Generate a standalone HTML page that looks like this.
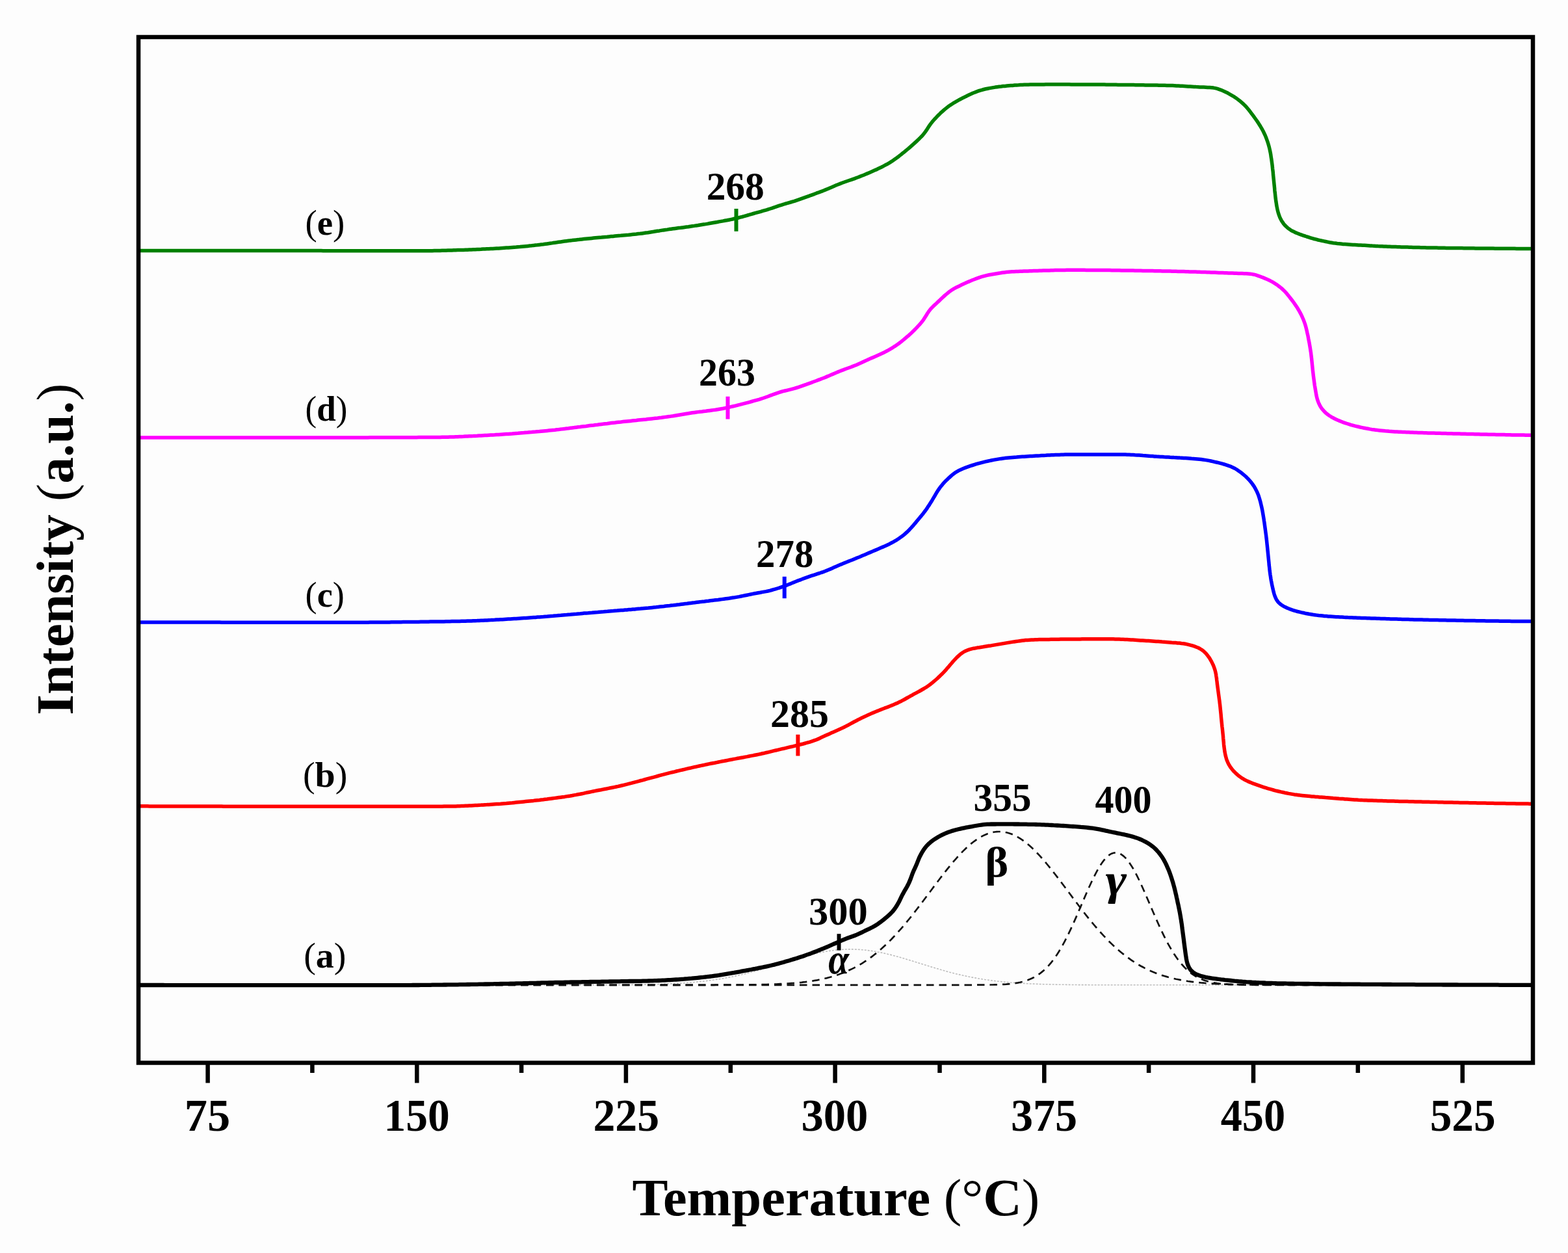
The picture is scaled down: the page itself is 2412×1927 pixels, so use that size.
<!DOCTYPE html>
<html><head><meta charset="utf-8"><title>TPD profiles</title><style>
html,body{margin:0;padding:0;background:#fdfdfd;}
svg{display:block;}
text{font-family:"Liberation Serif","Times New Roman",serif;fill:#000;}
</style></head><body>
<svg xmlns="http://www.w3.org/2000/svg" width="2412" height="1927" viewBox="0 0 2412 1927">
<rect x="0" y="0" width="2412" height="1927" fill="#fdfdfd"/>
<path d="M216.0,1514.8 L219.0,1514.8 L222.0,1514.8 L225.0,1514.8 L228.0,1514.8 L231.0,1514.8 L234.0,1514.8 L237.0,1514.8 L240.0,1514.8 L243.0,1514.8 L246.0,1514.8 L249.0,1514.8 L252.0,1514.8 L255.0,1514.8 L258.0,1514.8 L261.0,1514.8 L264.0,1514.8 L267.0,1514.8 L270.0,1514.8 L273.0,1514.8 L276.0,1514.8 L279.0,1514.8 L282.0,1514.8 L285.0,1514.8 L288.0,1514.8 L291.0,1514.8 L294.0,1514.8 L297.0,1514.8 L300.0,1514.8 L303.0,1514.8 L306.0,1514.8 L309.0,1514.8 L312.0,1514.8 L315.0,1514.8 L318.0,1514.8 L321.0,1514.8 L324.0,1514.8 L327.0,1514.8 L330.0,1514.8 L333.0,1514.8 L336.0,1514.8 L339.0,1514.8 L342.0,1514.8 L345.0,1514.8 L348.0,1514.8 L351.0,1514.8 L354.0,1514.8 L357.0,1514.8 L360.0,1514.8 L363.0,1514.8 L366.0,1514.8 L369.0,1514.8 L372.0,1514.8 L375.0,1514.8 L378.0,1514.8 L381.0,1514.8 L384.0,1514.8 L387.0,1514.8 L390.0,1514.8 L393.0,1514.8 L396.0,1514.8 L399.0,1514.8 L402.0,1514.8 L405.0,1514.8 L408.0,1514.8 L411.0,1514.8 L414.0,1514.8 L417.0,1514.8 L420.0,1514.8 L423.0,1514.8 L426.0,1514.8 L429.0,1514.8 L432.0,1514.8 L435.0,1514.8 L438.0,1514.8 L441.0,1514.8 L444.0,1514.8 L447.0,1514.8 L450.0,1514.8 L453.0,1514.8 L456.0,1514.8 L459.0,1514.8 L462.0,1514.8 L465.0,1514.8 L468.0,1514.8 L471.0,1514.8 L474.0,1514.8 L477.0,1514.8 L480.0,1514.8 L483.0,1514.8 L486.0,1514.8 L489.0,1514.8 L492.0,1514.8 L495.0,1514.8 L498.0,1514.8 L501.0,1514.8 L504.0,1514.8 L507.0,1514.8 L510.0,1514.8 L513.0,1514.8 L516.0,1514.8 L519.0,1514.8 L522.0,1514.8 L525.0,1514.8 L528.0,1514.8 L531.0,1514.8 L534.0,1514.8 L537.0,1514.8 L540.0,1514.8 L543.0,1514.8 L546.0,1514.8 L549.0,1514.8 L552.0,1514.8 L555.0,1514.8 L558.0,1514.8 L561.0,1514.8 L564.0,1514.8 L567.0,1514.8 L570.0,1514.8 L573.0,1514.8 L576.0,1514.8 L579.0,1514.8 L582.0,1514.8 L585.0,1514.8 L588.0,1514.8 L591.0,1514.8 L594.0,1514.8 L597.0,1514.8 L600.0,1514.8 L603.0,1514.8 L606.0,1514.8 L609.0,1514.8 L612.0,1514.8 L615.0,1514.8 L618.0,1514.8 L621.0,1514.8 L624.0,1514.8 L627.0,1514.8 L630.0,1514.8 L633.0,1514.8 L636.0,1514.8 L639.0,1514.8 L642.0,1514.8 L645.0,1514.8 L648.0,1514.8 L651.0,1514.8 L654.0,1514.8 L657.0,1514.8 L660.0,1514.8 L663.0,1514.8 L666.0,1514.8 L669.0,1514.8 L672.0,1514.8 L675.0,1514.8 L678.0,1514.8 L681.0,1514.8 L684.0,1514.8 L687.0,1514.8 L690.0,1514.8 L693.0,1514.8 L696.0,1514.8 L699.0,1514.8 L702.0,1514.8 L705.0,1514.8 L708.0,1514.8 L711.0,1514.8 L714.0,1514.8 L717.0,1514.8 L720.0,1514.8 L723.0,1514.8 L726.0,1514.8 L729.0,1514.8 L732.0,1514.8 L735.0,1514.8 L738.0,1514.8 L741.0,1514.8 L744.0,1514.8 L747.0,1514.8 L750.0,1514.8 L753.0,1514.8 L756.0,1514.8 L759.0,1514.8 L762.0,1514.8 L765.0,1514.8 L768.0,1514.8 L771.0,1514.8 L774.0,1514.8 L777.0,1514.8 L780.0,1514.8 L783.0,1514.8 L786.0,1514.8 L789.0,1514.8 L792.0,1514.8 L795.0,1514.8 L798.0,1514.8 L801.0,1514.8 L804.0,1514.8 L807.0,1514.8 L810.0,1514.8 L813.0,1514.8 L816.0,1514.8 L819.0,1514.8 L822.0,1514.8 L825.0,1514.8 L828.0,1514.8 L831.0,1514.8 L834.0,1514.8 L837.0,1514.8 L840.0,1514.8 L843.0,1514.8 L846.0,1514.8 L849.0,1514.8 L852.0,1514.8 L855.0,1514.8 L858.0,1514.8 L861.0,1514.8 L864.0,1514.8 L867.0,1514.8 L870.0,1514.8 L873.0,1514.8 L876.0,1514.8 L879.0,1514.8 L882.0,1514.8 L885.0,1514.8 L888.0,1514.8 L891.0,1514.8 L894.0,1514.8 L897.0,1514.8 L900.0,1514.8 L903.0,1514.8 L906.0,1514.8 L909.0,1514.8 L912.0,1514.7 L915.0,1514.7 L918.0,1514.7 L921.0,1514.7 L924.0,1514.7 L927.0,1514.7 L930.0,1514.7 L933.0,1514.7 L936.0,1514.7 L939.0,1514.7 L942.0,1514.7 L945.0,1514.6 L948.0,1514.6 L951.0,1514.6 L954.0,1514.6 L957.0,1514.6 L960.0,1514.5 L963.0,1514.5 L966.0,1514.5 L969.0,1514.5 L972.0,1514.4 L975.0,1514.4 L978.0,1514.4 L981.0,1514.3 L984.0,1514.3 L987.0,1514.2 L990.0,1514.2 L993.0,1514.1 L996.0,1514.1 L999.0,1514.0 L1002.0,1513.9 L1005.0,1513.8 L1008.0,1513.8 L1011.0,1513.7 L1014.0,1513.6 L1017.0,1513.5 L1020.0,1513.4 L1023.0,1513.3 L1026.0,1513.2 L1029.0,1513.0 L1032.0,1512.9 L1035.0,1512.8 L1038.0,1512.6 L1041.0,1512.4 L1044.0,1512.3 L1047.0,1512.1 L1050.0,1511.9 L1053.0,1511.7 L1056.0,1511.5 L1059.0,1511.3 L1062.0,1511.0 L1065.0,1510.8 L1068.0,1510.5 L1071.0,1510.2 L1074.0,1509.9 L1077.0,1509.6 L1080.0,1509.3 L1083.0,1508.9 L1086.0,1508.6 L1089.0,1508.2 L1092.0,1507.8 L1095.0,1507.4 L1098.0,1507.0 L1101.0,1506.5 L1104.0,1506.1 L1107.0,1505.6 L1110.0,1505.1 L1113.0,1504.6 L1116.0,1504.0 L1119.0,1503.5 L1122.0,1502.9 L1125.0,1502.3 L1128.0,1501.7 L1131.0,1501.1 L1134.0,1500.4 L1137.0,1499.7 L1140.0,1499.0 L1143.0,1498.3 L1146.0,1497.6 L1149.0,1496.9 L1152.0,1496.1 L1155.0,1495.3 L1158.0,1494.5 L1161.0,1493.7 L1164.0,1492.9 L1167.0,1492.0 L1170.0,1491.2 L1173.0,1490.3 L1176.0,1489.4 L1179.0,1488.5 L1182.0,1487.6 L1185.0,1486.7 L1188.0,1485.8 L1191.0,1484.9 L1194.0,1483.9 L1197.0,1483.0 L1200.0,1482.1 L1203.0,1481.1 L1206.0,1480.2 L1209.0,1479.3 L1212.0,1478.3 L1215.0,1477.4 L1218.0,1476.5 L1221.0,1475.6 L1224.0,1474.7 L1227.0,1473.8 L1230.0,1472.9 L1233.0,1472.0 L1236.0,1471.2 L1239.0,1470.4 L1242.0,1469.6 L1245.0,1468.8 L1248.0,1468.0 L1251.0,1467.3 L1254.0,1466.6 L1257.0,1465.9 L1260.0,1465.3 L1263.0,1464.6 L1266.0,1464.1 L1269.0,1463.5 L1272.0,1463.0 L1275.0,1462.5 L1278.0,1462.1 L1281.0,1461.7 L1284.0,1461.3 L1287.0,1461.0 L1290.0,1460.7 L1293.0,1460.5 L1296.0,1460.3 L1299.0,1460.1 L1302.0,1460.0 L1305.0,1459.9 L1308.0,1459.9 L1311.0,1459.9 L1314.0,1460.0 L1317.0,1460.1 L1320.0,1460.2 L1323.0,1460.4 L1326.0,1460.7 L1329.0,1460.9 L1332.0,1461.2 L1335.0,1461.6 L1338.0,1462.0 L1341.0,1462.4 L1344.0,1462.9 L1347.0,1463.4 L1350.0,1464.0 L1353.0,1464.5 L1356.0,1465.1 L1359.0,1465.8 L1362.0,1466.5 L1365.0,1467.2 L1368.0,1467.9 L1371.0,1468.6 L1374.0,1469.4 L1377.0,1470.2 L1380.0,1471.0 L1383.0,1471.9 L1386.0,1472.7 L1389.0,1473.6 L1392.0,1474.5 L1395.0,1475.4 L1398.0,1476.3 L1401.0,1477.2 L1404.0,1478.1 L1407.0,1479.1 L1410.0,1480.0 L1413.0,1480.9 L1416.0,1481.9 L1419.0,1482.8 L1422.0,1483.7 L1425.0,1484.7 L1428.0,1485.6 L1431.0,1486.5 L1434.0,1487.4 L1437.0,1488.3 L1440.0,1489.2 L1443.0,1490.1 L1446.0,1491.0 L1449.0,1491.9 L1452.0,1492.7 L1455.0,1493.5 L1458.0,1494.4 L1461.0,1495.2 L1464.0,1495.9 L1467.0,1496.7 L1470.0,1497.5 L1473.0,1498.2 L1476.0,1498.9 L1479.0,1499.6 L1482.0,1500.3 L1485.0,1500.9 L1488.0,1501.6 L1491.0,1502.2 L1494.0,1502.8 L1497.0,1503.4 L1500.0,1503.9 L1503.0,1504.5 L1506.0,1505.0 L1509.0,1505.5 L1512.0,1506.0 L1515.0,1506.5 L1518.0,1506.9 L1521.0,1507.3 L1524.0,1507.7 L1527.0,1508.1 L1530.0,1508.5 L1533.0,1508.9 L1536.0,1509.2 L1539.0,1509.5 L1542.0,1509.9 L1545.0,1510.2 L1548.0,1510.4 L1551.0,1510.7 L1554.0,1511.0 L1557.0,1511.2 L1560.0,1511.4 L1563.0,1511.7 L1566.0,1511.9 L1569.0,1512.1 L1572.0,1512.2 L1575.0,1512.4 L1578.0,1512.6 L1581.0,1512.7 L1584.0,1512.9 L1587.0,1513.0 L1590.0,1513.1 L1593.0,1513.3 L1596.0,1513.4 L1599.0,1513.5 L1602.0,1513.6 L1605.0,1513.7 L1608.0,1513.8 L1611.0,1513.8 L1614.0,1513.9 L1617.0,1514.0 L1620.0,1514.0 L1623.0,1514.1 L1626.0,1514.2 L1629.0,1514.2 L1632.0,1514.3 L1635.0,1514.3 L1638.0,1514.3 L1641.0,1514.4 L1644.0,1514.4 L1647.0,1514.5 L1650.0,1514.5 L1653.0,1514.5 L1656.0,1514.5 L1659.0,1514.6 L1662.0,1514.6 L1665.0,1514.6 L1668.0,1514.6 L1671.0,1514.6 L1674.0,1514.6 L1677.0,1514.7 L1680.0,1514.7 L1683.0,1514.7 L1686.0,1514.7 L1689.0,1514.7 L1692.0,1514.7 L1695.0,1514.7 L1698.0,1514.7 L1701.0,1514.7 L1704.0,1514.7 L1707.0,1514.8 L1710.0,1514.8 L1713.0,1514.8 L1716.0,1514.8 L1719.0,1514.8 L1722.0,1514.8 L1725.0,1514.8 L1728.0,1514.8 L1731.0,1514.8 L1734.0,1514.8 L1737.0,1514.8 L1740.0,1514.8 L1743.0,1514.8 L1746.0,1514.8 L1749.0,1514.8 L1752.0,1514.8 L1755.0,1514.8 L1758.0,1514.8 L1761.0,1514.8 L1764.0,1514.8 L1767.0,1514.8 L1770.0,1514.8 L1773.0,1514.8 L1776.0,1514.8 L1779.0,1514.8 L1782.0,1514.8 L1785.0,1514.8 L1788.0,1514.8 L1791.0,1514.8 L1794.0,1514.8 L1797.0,1514.8 L1800.0,1514.8 L1803.0,1514.8 L1806.0,1514.8 L1809.0,1514.8 L1812.0,1514.8 L1815.0,1514.8 L1818.0,1514.8 L1821.0,1514.8 L1824.0,1514.8 L1827.0,1514.8 L1830.0,1514.8 L1833.0,1514.8 L1836.0,1514.8 L1839.0,1514.8 L1842.0,1514.8 L1845.0,1514.8 L1848.0,1514.8 L1851.0,1514.8 L1854.0,1514.8 L1857.0,1514.8 L1860.0,1514.8 L1863.0,1514.8 L1866.0,1514.8 L1869.0,1514.8 L1872.0,1514.8 L1875.0,1514.8 L1878.0,1514.8 L1881.0,1514.8 L1884.0,1514.8 L1887.0,1514.8 L1890.0,1514.8 L1893.0,1514.8 L1896.0,1514.8 L1899.0,1514.8 L1902.0,1514.8 L1905.0,1514.8 L1908.0,1514.8 L1911.0,1514.8 L1914.0,1514.8 L1917.0,1514.8 L1920.0,1514.8 L1923.0,1514.8 L1926.0,1514.8 L1929.0,1514.8 L1932.0,1514.8 L1935.0,1514.8 L1938.0,1514.8 L1941.0,1514.8 L1944.0,1514.8 L1947.0,1514.8 L1950.0,1514.8 L1953.0,1514.8 L1956.0,1514.8 L1959.0,1514.8 L1962.0,1514.8 L1965.0,1514.8 L1968.0,1514.8 L1971.0,1514.8 L1974.0,1514.8 L1977.0,1514.8 L1980.0,1514.8 L1983.0,1514.8 L1986.0,1514.8 L1989.0,1514.8 L1992.0,1514.8 L1995.0,1514.8 L1998.0,1514.8 L2001.0,1514.8 L2004.0,1514.8 L2007.0,1514.8 L2010.0,1514.8 L2013.0,1514.8 L2016.0,1514.8 L2019.0,1514.8 L2022.0,1514.8 L2025.0,1514.8 L2028.0,1514.8 L2031.0,1514.8 L2034.0,1514.8 L2037.0,1514.8 L2040.0,1514.8 L2043.0,1514.8 L2046.0,1514.8 L2049.0,1514.8 L2052.0,1514.8 L2055.0,1514.8 L2058.0,1514.8 L2061.0,1514.8 L2064.0,1514.8 L2067.0,1514.8 L2070.0,1514.8 L2073.0,1514.8 L2076.0,1514.8 L2079.0,1514.8 L2082.0,1514.8 L2085.0,1514.8 L2088.0,1514.8 L2091.0,1514.8 L2094.0,1514.8 L2097.0,1514.8 L2100.0,1514.8 L2103.0,1514.8 L2106.0,1514.8 L2109.0,1514.8 L2112.0,1514.8 L2115.0,1514.8 L2118.0,1514.8 L2121.0,1514.8 L2124.0,1514.8 L2127.0,1514.8 L2130.0,1514.8 L2133.0,1514.8 L2136.0,1514.8 L2139.0,1514.8 L2142.0,1514.8 L2145.0,1514.8 L2148.0,1514.8 L2151.0,1514.8 L2154.0,1514.8 L2157.0,1514.8 L2160.0,1514.8 L2163.0,1514.8 L2166.0,1514.8 L2169.0,1514.8 L2172.0,1514.8 L2175.0,1514.8 L2178.0,1514.8 L2181.0,1514.8 L2184.0,1514.8 L2187.0,1514.8 L2190.0,1514.8 L2193.0,1514.8 L2196.0,1514.8 L2199.0,1514.8 L2202.0,1514.8 L2205.0,1514.8 L2208.0,1514.8 L2211.0,1514.8 L2214.0,1514.8 L2217.0,1514.8 L2220.0,1514.8 L2223.0,1514.8 L2226.0,1514.8 L2229.0,1514.8 L2232.0,1514.8 L2235.0,1514.8 L2238.0,1514.8 L2241.0,1514.8 L2244.0,1514.8 L2247.0,1514.8 L2250.0,1514.8 L2253.0,1514.8 L2256.0,1514.8 L2259.0,1514.8 L2262.0,1514.8 L2265.0,1514.8 L2268.0,1514.8 L2271.0,1514.8 L2274.0,1514.8 L2277.0,1514.8 L2280.0,1514.8 L2283.0,1514.8 L2286.0,1514.8 L2289.0,1514.8 L2292.0,1514.8 L2295.0,1514.8 L2298.0,1514.8 L2301.0,1514.8 L2304.0,1514.8 L2307.0,1514.8 L2310.0,1514.8 L2313.0,1514.8 L2316.0,1514.8 L2319.0,1514.8 L2322.0,1514.8 L2325.0,1514.8 L2328.0,1514.8 L2331.0,1514.8 L2334.0,1514.8 L2337.0,1514.8 L2340.0,1514.8 L2343.0,1514.8 L2346.0,1514.8 L2349.0,1514.8 L2352.0,1514.8 L2355.0,1514.8" fill="none" stroke="#bdbdbd" stroke-width="1.6" stroke-dasharray="3,2"/>
<path d="M216.0,1514.8 L219.0,1514.8 L222.0,1514.8 L225.0,1514.8 L228.0,1514.8 L231.0,1514.8 L234.0,1514.8 L237.0,1514.8 L240.0,1514.8 L243.0,1514.8 L246.0,1514.8 L249.0,1514.8 L252.0,1514.8 L255.0,1514.8 L258.0,1514.8 L261.0,1514.8 L264.0,1514.8 L267.0,1514.8 L270.0,1514.8 L273.0,1514.8 L276.0,1514.8 L279.0,1514.8 L282.0,1514.8 L285.0,1514.8 L288.0,1514.8 L291.0,1514.8 L294.0,1514.8 L297.0,1514.8 L300.0,1514.8 L303.0,1514.8 L306.0,1514.8 L309.0,1514.8 L312.0,1514.8 L315.0,1514.8 L318.0,1514.8 L321.0,1514.8 L324.0,1514.8 L327.0,1514.8 L330.0,1514.8 L333.0,1514.8 L336.0,1514.8 L339.0,1514.8 L342.0,1514.8 L345.0,1514.8 L348.0,1514.8 L351.0,1514.8 L354.0,1514.8 L357.0,1514.8 L360.0,1514.8 L363.0,1514.8 L366.0,1514.8 L369.0,1514.8 L372.0,1514.8 L375.0,1514.8 L378.0,1514.8 L381.0,1514.8 L384.0,1514.8 L387.0,1514.8 L390.0,1514.8 L393.0,1514.8 L396.0,1514.8 L399.0,1514.8 L402.0,1514.8 L405.0,1514.8 L408.0,1514.8 L411.0,1514.8 L414.0,1514.8 L417.0,1514.8 L420.0,1514.8 L423.0,1514.8 L426.0,1514.8 L429.0,1514.8 L432.0,1514.8 L435.0,1514.8 L438.0,1514.8 L441.0,1514.8 L444.0,1514.8 L447.0,1514.8 L450.0,1514.8 L453.0,1514.8 L456.0,1514.8 L459.0,1514.8 L462.0,1514.8 L465.0,1514.8 L468.0,1514.8 L471.0,1514.8 L474.0,1514.8 L477.0,1514.8 L480.0,1514.8 L483.0,1514.8 L486.0,1514.8 L489.0,1514.8 L492.0,1514.8 L495.0,1514.8 L498.0,1514.8 L501.0,1514.8 L504.0,1514.8 L507.0,1514.8 L510.0,1514.8 L513.0,1514.8 L516.0,1514.8 L519.0,1514.8 L522.0,1514.8 L525.0,1514.8 L528.0,1514.8 L531.0,1514.8 L534.0,1514.8 L537.0,1514.8 L540.0,1514.8 L543.0,1514.8 L546.0,1514.8 L549.0,1514.8 L552.0,1514.8 L555.0,1514.8 L558.0,1514.8 L561.0,1514.8 L564.0,1514.8 L567.0,1514.8 L570.0,1514.8 L573.0,1514.8 L576.0,1514.8 L579.0,1514.8 L582.0,1514.8 L585.0,1514.8 L588.0,1514.8 L591.0,1514.8 L594.0,1514.8 L597.0,1514.8 L600.0,1514.8 L603.0,1514.8 L606.0,1514.8 L609.0,1514.8 L612.0,1514.8 L615.0,1514.8 L618.0,1514.8 L621.0,1514.8 L624.0,1514.8 L627.0,1514.8 L630.0,1514.8 L633.0,1514.8 L636.0,1514.8 L639.0,1514.8 L642.0,1514.8 L645.0,1514.8 L648.0,1514.8 L651.0,1514.8 L654.0,1514.8 L657.0,1514.8 L660.0,1514.8 L663.0,1514.8 L666.0,1514.8 L669.0,1514.8 L672.0,1514.8 L675.0,1514.8 L678.0,1514.8 L681.0,1514.8 L684.0,1514.8 L687.0,1514.8 L690.0,1514.8 L693.0,1514.8 L696.0,1514.8 L699.0,1514.8 L702.0,1514.8 L705.0,1514.8 L708.0,1514.8 L711.0,1514.8 L714.0,1514.8 L717.0,1514.8 L720.0,1514.8 L723.0,1514.8 L726.0,1514.8 L729.0,1514.8 L732.0,1514.8 L735.0,1514.8 L738.0,1514.8 L741.0,1514.8 L744.0,1514.8 L747.0,1514.8 L750.0,1514.8 L753.0,1514.8 L756.0,1514.8 L759.0,1514.8 L762.0,1514.8 L765.0,1514.8 L768.0,1514.8 L771.0,1514.8 L774.0,1514.8 L777.0,1514.8 L780.0,1514.8 L783.0,1514.8 L786.0,1514.8 L789.0,1514.8 L792.0,1514.8 L795.0,1514.8 L798.0,1514.8 L801.0,1514.8 L804.0,1514.8 L807.0,1514.8 L810.0,1514.8 L813.0,1514.8 L816.0,1514.8 L819.0,1514.8 L822.0,1514.8 L825.0,1514.8 L828.0,1514.8 L831.0,1514.8 L834.0,1514.8 L837.0,1514.8 L840.0,1514.8 L843.0,1514.8 L846.0,1514.8 L849.0,1514.8 L852.0,1514.8 L855.0,1514.8 L858.0,1514.8 L861.0,1514.8 L864.0,1514.8 L867.0,1514.8 L870.0,1514.8 L873.0,1514.8 L876.0,1514.8 L879.0,1514.8 L882.0,1514.8 L885.0,1514.8 L888.0,1514.8 L891.0,1514.8 L894.0,1514.8 L897.0,1514.8 L900.0,1514.8 L903.0,1514.8 L906.0,1514.8 L909.0,1514.8 L912.0,1514.8 L915.0,1514.8 L918.0,1514.8 L921.0,1514.8 L924.0,1514.8 L927.0,1514.8 L930.0,1514.8 L933.0,1514.8 L936.0,1514.8 L939.0,1514.8 L942.0,1514.8 L945.0,1514.8 L948.0,1514.8 L951.0,1514.8 L954.0,1514.8 L957.0,1514.8 L960.0,1514.8 L963.0,1514.8 L966.0,1514.8 L969.0,1514.8 L972.0,1514.8 L975.0,1514.8 L978.0,1514.8 L981.0,1514.8 L984.0,1514.8 L987.0,1514.8 L990.0,1514.8 L993.0,1514.8 L996.0,1514.8 L999.0,1514.8 L1002.0,1514.8 L1005.0,1514.8 L1008.0,1514.8 L1011.0,1514.8 L1014.0,1514.8 L1017.0,1514.8 L1020.0,1514.8 L1023.0,1514.8 L1026.0,1514.8 L1029.0,1514.8 L1032.0,1514.8 L1035.0,1514.8 L1038.0,1514.8 L1041.0,1514.8 L1044.0,1514.8 L1047.0,1514.8 L1050.0,1514.8 L1053.0,1514.8 L1056.0,1514.8 L1059.0,1514.8 L1062.0,1514.8 L1065.0,1514.8 L1068.0,1514.8 L1071.0,1514.8 L1074.0,1514.8 L1077.0,1514.8 L1080.0,1514.8 L1083.0,1514.8 L1086.0,1514.8 L1089.0,1514.8 L1092.0,1514.8 L1095.0,1514.8 L1098.0,1514.8 L1101.0,1514.7 L1104.0,1514.7 L1107.0,1514.7 L1110.0,1514.7 L1113.0,1514.7 L1116.0,1514.7 L1119.0,1514.7 L1122.0,1514.7 L1125.0,1514.7 L1128.0,1514.7 L1131.0,1514.6 L1134.0,1514.6 L1137.0,1514.6 L1140.0,1514.6 L1143.0,1514.5 L1146.0,1514.5 L1149.0,1514.5 L1152.0,1514.5 L1155.0,1514.4 L1158.0,1514.4 L1161.0,1514.3 L1164.0,1514.3 L1167.0,1514.2 L1170.0,1514.2 L1173.0,1514.1 L1176.0,1514.0 L1179.0,1514.0 L1182.0,1513.9 L1185.0,1513.8 L1188.0,1513.7 L1191.0,1513.6 L1194.0,1513.5 L1197.0,1513.3 L1200.0,1513.2 L1203.0,1513.1 L1206.0,1512.9 L1209.0,1512.7 L1212.0,1512.5 L1215.0,1512.3 L1218.0,1512.1 L1221.0,1511.9 L1224.0,1511.6 L1227.0,1511.4 L1230.0,1511.1 L1233.0,1510.8 L1236.0,1510.4 L1239.0,1510.1 L1242.0,1509.7 L1245.0,1509.3 L1248.0,1508.8 L1251.0,1508.4 L1254.0,1507.8 L1257.0,1507.3 L1260.0,1506.7 L1263.0,1506.1 L1266.0,1505.5 L1269.0,1504.8 L1272.0,1504.1 L1275.0,1503.3 L1278.0,1502.5 L1281.0,1501.6 L1284.0,1500.7 L1287.0,1499.7 L1290.0,1498.7 L1293.0,1497.6 L1296.0,1496.5 L1299.0,1495.3 L1302.0,1494.0 L1305.0,1492.7 L1308.0,1491.3 L1311.0,1489.9 L1314.0,1488.4 L1317.0,1486.8 L1320.0,1485.1 L1323.0,1483.4 L1326.0,1481.6 L1329.0,1479.7 L1332.0,1477.7 L1335.0,1475.6 L1338.0,1473.5 L1341.0,1471.3 L1344.0,1469.0 L1347.0,1466.6 L1350.0,1464.2 L1353.0,1461.6 L1356.0,1459.0 L1359.0,1456.3 L1362.0,1453.5 L1365.0,1450.6 L1368.0,1447.7 L1371.0,1444.7 L1374.0,1441.5 L1377.0,1438.4 L1380.0,1435.1 L1383.0,1431.7 L1386.0,1428.3 L1389.0,1424.9 L1392.0,1421.3 L1395.0,1417.7 L1398.0,1414.0 L1401.0,1410.3 L1404.0,1406.5 L1407.0,1402.7 L1410.0,1398.8 L1413.0,1394.9 L1416.0,1391.0 L1419.0,1387.0 L1422.0,1383.0 L1425.0,1379.0 L1428.0,1375.0 L1431.0,1371.0 L1434.0,1367.0 L1437.0,1362.9 L1440.0,1358.9 L1443.0,1355.0 L1446.0,1351.0 L1449.0,1347.1 L1452.0,1343.2 L1455.0,1339.4 L1458.0,1335.6 L1461.0,1331.9 L1464.0,1328.3 L1467.0,1324.7 L1470.0,1321.3 L1473.0,1317.9 L1476.0,1314.6 L1479.0,1311.4 L1482.0,1308.4 L1485.0,1305.5 L1488.0,1302.6 L1491.0,1300.0 L1494.0,1297.4 L1497.0,1295.0 L1500.0,1292.8 L1503.0,1290.7 L1506.0,1288.8 L1509.0,1287.0 L1512.0,1285.4 L1515.0,1284.0 L1518.0,1282.7 L1521.0,1281.6 L1524.0,1280.7 L1527.0,1280.0 L1530.0,1279.5 L1533.0,1279.2 L1536.0,1279.0 L1539.0,1279.0 L1542.0,1279.3 L1545.0,1279.7 L1548.0,1280.3 L1551.0,1281.0 L1554.0,1282.0 L1557.0,1283.1 L1560.0,1284.4 L1563.0,1285.9 L1566.0,1287.6 L1569.0,1289.4 L1572.0,1291.4 L1575.0,1293.5 L1578.0,1295.8 L1581.0,1298.3 L1584.0,1300.8 L1587.0,1303.6 L1590.0,1306.4 L1593.0,1309.4 L1596.0,1312.5 L1599.0,1315.7 L1602.0,1319.0 L1605.0,1322.4 L1608.0,1325.9 L1611.0,1329.5 L1614.0,1333.1 L1617.0,1336.9 L1620.0,1340.7 L1623.0,1344.5 L1626.0,1348.4 L1629.0,1352.3 L1632.0,1356.3 L1635.0,1360.3 L1638.0,1364.3 L1641.0,1368.3 L1644.0,1372.3 L1647.0,1376.3 L1650.0,1380.4 L1653.0,1384.4 L1656.0,1388.3 L1659.0,1392.3 L1662.0,1396.2 L1665.0,1400.1 L1668.0,1404.0 L1671.0,1407.8 L1674.0,1411.6 L1677.0,1415.3 L1680.0,1418.9 L1683.0,1422.5 L1686.0,1426.0 L1689.0,1429.5 L1692.0,1432.9 L1695.0,1436.2 L1698.0,1439.4 L1701.0,1442.6 L1704.0,1445.7 L1707.0,1448.7 L1710.0,1451.6 L1713.0,1454.5 L1716.0,1457.2 L1719.0,1459.9 L1722.0,1462.5 L1725.0,1465.0 L1728.0,1467.4 L1731.0,1469.8 L1734.0,1472.0 L1737.0,1474.2 L1740.0,1476.3 L1743.0,1478.4 L1746.0,1480.3 L1749.0,1482.2 L1752.0,1484.0 L1755.0,1485.7 L1758.0,1487.3 L1761.0,1488.9 L1764.0,1490.4 L1767.0,1491.8 L1770.0,1493.2 L1773.0,1494.5 L1776.0,1495.7 L1779.0,1496.9 L1782.0,1498.0 L1785.0,1499.1 L1788.0,1500.1 L1791.0,1501.0 L1794.0,1501.9 L1797.0,1502.8 L1800.0,1503.6 L1803.0,1504.3 L1806.0,1505.0 L1809.0,1505.7 L1812.0,1506.3 L1815.0,1506.9 L1818.0,1507.5 L1821.0,1508.0 L1824.0,1508.5 L1827.0,1509.0 L1830.0,1509.4 L1833.0,1509.8 L1836.0,1510.2 L1839.0,1510.5 L1842.0,1510.9 L1845.0,1511.2 L1848.0,1511.5 L1851.0,1511.7 L1854.0,1512.0 L1857.0,1512.2 L1860.0,1512.4 L1863.0,1512.6 L1866.0,1512.8 L1869.0,1513.0 L1872.0,1513.1 L1875.0,1513.3 L1878.0,1513.4 L1881.0,1513.5 L1884.0,1513.6 L1887.0,1513.7 L1890.0,1513.8 L1893.0,1513.9 L1896.0,1514.0 L1899.0,1514.1 L1902.0,1514.1 L1905.0,1514.2 L1908.0,1514.2 L1911.0,1514.3 L1914.0,1514.3 L1917.0,1514.4 L1920.0,1514.4 L1923.0,1514.5 L1926.0,1514.5 L1929.0,1514.5 L1932.0,1514.6 L1935.0,1514.6 L1938.0,1514.6 L1941.0,1514.6 L1944.0,1514.6 L1947.0,1514.7 L1950.0,1514.7 L1953.0,1514.7 L1956.0,1514.7 L1959.0,1514.7 L1962.0,1514.7 L1965.0,1514.7 L1968.0,1514.7 L1971.0,1514.7 L1974.0,1514.7 L1977.0,1514.8 L1980.0,1514.8 L1983.0,1514.8 L1986.0,1514.8 L1989.0,1514.8 L1992.0,1514.8 L1995.0,1514.8 L1998.0,1514.8 L2001.0,1514.8 L2004.0,1514.8 L2007.0,1514.8 L2010.0,1514.8 L2013.0,1514.8 L2016.0,1514.8 L2019.0,1514.8 L2022.0,1514.8 L2025.0,1514.8 L2028.0,1514.8 L2031.0,1514.8 L2034.0,1514.8 L2037.0,1514.8 L2040.0,1514.8 L2043.0,1514.8 L2046.0,1514.8 L2049.0,1514.8 L2052.0,1514.8 L2055.0,1514.8 L2058.0,1514.8 L2061.0,1514.8 L2064.0,1514.8 L2067.0,1514.8 L2070.0,1514.8 L2073.0,1514.8 L2076.0,1514.8 L2079.0,1514.8 L2082.0,1514.8 L2085.0,1514.8 L2088.0,1514.8 L2091.0,1514.8 L2094.0,1514.8 L2097.0,1514.8 L2100.0,1514.8 L2103.0,1514.8 L2106.0,1514.8 L2109.0,1514.8 L2112.0,1514.8 L2115.0,1514.8 L2118.0,1514.8 L2121.0,1514.8 L2124.0,1514.8 L2127.0,1514.8 L2130.0,1514.8 L2133.0,1514.8 L2136.0,1514.8 L2139.0,1514.8 L2142.0,1514.8 L2145.0,1514.8 L2148.0,1514.8 L2151.0,1514.8 L2154.0,1514.8 L2157.0,1514.8 L2160.0,1514.8 L2163.0,1514.8 L2166.0,1514.8 L2169.0,1514.8 L2172.0,1514.8 L2175.0,1514.8 L2178.0,1514.8 L2181.0,1514.8 L2184.0,1514.8 L2187.0,1514.8 L2190.0,1514.8 L2193.0,1514.8 L2196.0,1514.8 L2199.0,1514.8 L2202.0,1514.8 L2205.0,1514.8 L2208.0,1514.8 L2211.0,1514.8 L2214.0,1514.8 L2217.0,1514.8 L2220.0,1514.8 L2223.0,1514.8 L2226.0,1514.8 L2229.0,1514.8 L2232.0,1514.8 L2235.0,1514.8 L2238.0,1514.8 L2241.0,1514.8 L2244.0,1514.8 L2247.0,1514.8 L2250.0,1514.8 L2253.0,1514.8 L2256.0,1514.8 L2259.0,1514.8 L2262.0,1514.8 L2265.0,1514.8 L2268.0,1514.8 L2271.0,1514.8 L2274.0,1514.8 L2277.0,1514.8 L2280.0,1514.8 L2283.0,1514.8 L2286.0,1514.8 L2289.0,1514.8 L2292.0,1514.8 L2295.0,1514.8 L2298.0,1514.8 L2301.0,1514.8 L2304.0,1514.8 L2307.0,1514.8 L2310.0,1514.8 L2313.0,1514.8 L2316.0,1514.8 L2319.0,1514.8 L2322.0,1514.8 L2325.0,1514.8 L2328.0,1514.8 L2331.0,1514.8 L2334.0,1514.8 L2337.0,1514.8 L2340.0,1514.8 L2343.0,1514.8 L2346.0,1514.8 L2349.0,1514.8 L2352.0,1514.8 L2355.0,1514.8" fill="none" stroke="#111" stroke-width="2.7" stroke-dasharray="11.5,8"/>
<path d="M216.0,1514.8 L219.0,1514.8 L222.0,1514.8 L225.0,1514.8 L228.0,1514.8 L231.0,1514.8 L234.0,1514.8 L237.0,1514.8 L240.0,1514.8 L243.0,1514.8 L246.0,1514.8 L249.0,1514.8 L252.0,1514.8 L255.0,1514.8 L258.0,1514.8 L261.0,1514.8 L264.0,1514.8 L267.0,1514.8 L270.0,1514.8 L273.0,1514.8 L276.0,1514.8 L279.0,1514.8 L282.0,1514.8 L285.0,1514.8 L288.0,1514.8 L291.0,1514.8 L294.0,1514.8 L297.0,1514.8 L300.0,1514.8 L303.0,1514.8 L306.0,1514.8 L309.0,1514.8 L312.0,1514.8 L315.0,1514.8 L318.0,1514.8 L321.0,1514.8 L324.0,1514.8 L327.0,1514.8 L330.0,1514.8 L333.0,1514.8 L336.0,1514.8 L339.0,1514.8 L342.0,1514.8 L345.0,1514.8 L348.0,1514.8 L351.0,1514.8 L354.0,1514.8 L357.0,1514.8 L360.0,1514.8 L363.0,1514.8 L366.0,1514.8 L369.0,1514.8 L372.0,1514.8 L375.0,1514.8 L378.0,1514.8 L381.0,1514.8 L384.0,1514.8 L387.0,1514.8 L390.0,1514.8 L393.0,1514.8 L396.0,1514.8 L399.0,1514.8 L402.0,1514.8 L405.0,1514.8 L408.0,1514.8 L411.0,1514.8 L414.0,1514.8 L417.0,1514.8 L420.0,1514.8 L423.0,1514.8 L426.0,1514.8 L429.0,1514.8 L432.0,1514.8 L435.0,1514.8 L438.0,1514.8 L441.0,1514.8 L444.0,1514.8 L447.0,1514.8 L450.0,1514.8 L453.0,1514.8 L456.0,1514.8 L459.0,1514.8 L462.0,1514.8 L465.0,1514.8 L468.0,1514.8 L471.0,1514.8 L474.0,1514.8 L477.0,1514.8 L480.0,1514.8 L483.0,1514.8 L486.0,1514.8 L489.0,1514.8 L492.0,1514.8 L495.0,1514.8 L498.0,1514.8 L501.0,1514.8 L504.0,1514.8 L507.0,1514.8 L510.0,1514.8 L513.0,1514.8 L516.0,1514.8 L519.0,1514.8 L522.0,1514.8 L525.0,1514.8 L528.0,1514.8 L531.0,1514.8 L534.0,1514.8 L537.0,1514.8 L540.0,1514.8 L543.0,1514.8 L546.0,1514.8 L549.0,1514.8 L552.0,1514.8 L555.0,1514.8 L558.0,1514.8 L561.0,1514.8 L564.0,1514.8 L567.0,1514.8 L570.0,1514.8 L573.0,1514.8 L576.0,1514.8 L579.0,1514.8 L582.0,1514.8 L585.0,1514.8 L588.0,1514.8 L591.0,1514.8 L594.0,1514.8 L597.0,1514.8 L600.0,1514.8 L603.0,1514.8 L606.0,1514.8 L609.0,1514.8 L612.0,1514.8 L615.0,1514.8 L618.0,1514.8 L621.0,1514.8 L624.0,1514.8 L627.0,1514.8 L630.0,1514.8 L633.0,1514.8 L636.0,1514.8 L639.0,1514.8 L642.0,1514.8 L645.0,1514.8 L648.0,1514.8 L651.0,1514.8 L654.0,1514.8 L657.0,1514.8 L660.0,1514.8 L663.0,1514.8 L666.0,1514.8 L669.0,1514.8 L672.0,1514.8 L675.0,1514.8 L678.0,1514.8 L681.0,1514.8 L684.0,1514.8 L687.0,1514.8 L690.0,1514.8 L693.0,1514.8 L696.0,1514.8 L699.0,1514.8 L702.0,1514.8 L705.0,1514.8 L708.0,1514.8 L711.0,1514.8 L714.0,1514.8 L717.0,1514.8 L720.0,1514.8 L723.0,1514.8 L726.0,1514.8 L729.0,1514.8 L732.0,1514.8 L735.0,1514.8 L738.0,1514.8 L741.0,1514.8 L744.0,1514.8 L747.0,1514.8 L750.0,1514.8 L753.0,1514.8 L756.0,1514.8 L759.0,1514.8 L762.0,1514.8 L765.0,1514.8 L768.0,1514.8 L771.0,1514.8 L774.0,1514.8 L777.0,1514.8 L780.0,1514.8 L783.0,1514.8 L786.0,1514.8 L789.0,1514.8 L792.0,1514.8 L795.0,1514.8 L798.0,1514.8 L801.0,1514.8 L804.0,1514.8 L807.0,1514.8 L810.0,1514.8 L813.0,1514.8 L816.0,1514.8 L819.0,1514.8 L822.0,1514.8 L825.0,1514.8 L828.0,1514.8 L831.0,1514.8 L834.0,1514.8 L837.0,1514.8 L840.0,1514.8 L843.0,1514.8 L846.0,1514.8 L849.0,1514.8 L852.0,1514.8 L855.0,1514.8 L858.0,1514.8 L861.0,1514.8 L864.0,1514.8 L867.0,1514.8 L870.0,1514.8 L873.0,1514.8 L876.0,1514.8 L879.0,1514.8 L882.0,1514.8 L885.0,1514.8 L888.0,1514.8 L891.0,1514.8 L894.0,1514.8 L897.0,1514.8 L900.0,1514.8 L903.0,1514.8 L906.0,1514.8 L909.0,1514.8 L912.0,1514.8 L915.0,1514.8 L918.0,1514.8 L921.0,1514.8 L924.0,1514.8 L927.0,1514.8 L930.0,1514.8 L933.0,1514.8 L936.0,1514.8 L939.0,1514.8 L942.0,1514.8 L945.0,1514.8 L948.0,1514.8 L951.0,1514.8 L954.0,1514.8 L957.0,1514.8 L960.0,1514.8 L963.0,1514.8 L966.0,1514.8 L969.0,1514.8 L972.0,1514.8 L975.0,1514.8 L978.0,1514.8 L981.0,1514.8 L984.0,1514.8 L987.0,1514.8 L990.0,1514.8 L993.0,1514.8 L996.0,1514.8 L999.0,1514.8 L1002.0,1514.8 L1005.0,1514.8 L1008.0,1514.8 L1011.0,1514.8 L1014.0,1514.8 L1017.0,1514.8 L1020.0,1514.8 L1023.0,1514.8 L1026.0,1514.8 L1029.0,1514.8 L1032.0,1514.8 L1035.0,1514.8 L1038.0,1514.8 L1041.0,1514.8 L1044.0,1514.8 L1047.0,1514.8 L1050.0,1514.8 L1053.0,1514.8 L1056.0,1514.8 L1059.0,1514.8 L1062.0,1514.8 L1065.0,1514.8 L1068.0,1514.8 L1071.0,1514.8 L1074.0,1514.8 L1077.0,1514.8 L1080.0,1514.8 L1083.0,1514.8 L1086.0,1514.8 L1089.0,1514.8 L1092.0,1514.8 L1095.0,1514.8 L1098.0,1514.8 L1101.0,1514.8 L1104.0,1514.8 L1107.0,1514.8 L1110.0,1514.8 L1113.0,1514.8 L1116.0,1514.8 L1119.0,1514.8 L1122.0,1514.8 L1125.0,1514.8 L1128.0,1514.8 L1131.0,1514.8 L1134.0,1514.8 L1137.0,1514.8 L1140.0,1514.8 L1143.0,1514.8 L1146.0,1514.8 L1149.0,1514.8 L1152.0,1514.8 L1155.0,1514.8 L1158.0,1514.8 L1161.0,1514.8 L1164.0,1514.8 L1167.0,1514.8 L1170.0,1514.8 L1173.0,1514.8 L1176.0,1514.8 L1179.0,1514.8 L1182.0,1514.8 L1185.0,1514.8 L1188.0,1514.8 L1191.0,1514.8 L1194.0,1514.8 L1197.0,1514.8 L1200.0,1514.8 L1203.0,1514.8 L1206.0,1514.8 L1209.0,1514.8 L1212.0,1514.8 L1215.0,1514.8 L1218.0,1514.8 L1221.0,1514.8 L1224.0,1514.8 L1227.0,1514.8 L1230.0,1514.8 L1233.0,1514.8 L1236.0,1514.8 L1239.0,1514.8 L1242.0,1514.8 L1245.0,1514.8 L1248.0,1514.8 L1251.0,1514.8 L1254.0,1514.8 L1257.0,1514.8 L1260.0,1514.8 L1263.0,1514.8 L1266.0,1514.8 L1269.0,1514.8 L1272.0,1514.8 L1275.0,1514.8 L1278.0,1514.8 L1281.0,1514.8 L1284.0,1514.8 L1287.0,1514.8 L1290.0,1514.8 L1293.0,1514.8 L1296.0,1514.8 L1299.0,1514.8 L1302.0,1514.8 L1305.0,1514.8 L1308.0,1514.8 L1311.0,1514.8 L1314.0,1514.8 L1317.0,1514.8 L1320.0,1514.8 L1323.0,1514.8 L1326.0,1514.8 L1329.0,1514.8 L1332.0,1514.8 L1335.0,1514.8 L1338.0,1514.8 L1341.0,1514.8 L1344.0,1514.8 L1347.0,1514.8 L1350.0,1514.8 L1353.0,1514.8 L1356.0,1514.8 L1359.0,1514.8 L1362.0,1514.8 L1365.0,1514.8 L1368.0,1514.8 L1371.0,1514.8 L1374.0,1514.8 L1377.0,1514.8 L1380.0,1514.8 L1383.0,1514.8 L1386.0,1514.8 L1389.0,1514.8 L1392.0,1514.8 L1395.0,1514.8 L1398.0,1514.8 L1401.0,1514.8 L1404.0,1514.8 L1407.0,1514.8 L1410.0,1514.8 L1413.0,1514.8 L1416.0,1514.8 L1419.0,1514.8 L1422.0,1514.8 L1425.0,1514.8 L1428.0,1514.8 L1431.0,1514.8 L1434.0,1514.8 L1437.0,1514.8 L1440.0,1514.8 L1443.0,1514.8 L1446.0,1514.8 L1449.0,1514.8 L1452.0,1514.8 L1455.0,1514.8 L1458.0,1514.8 L1461.0,1514.8 L1464.0,1514.8 L1467.0,1514.8 L1470.0,1514.8 L1473.0,1514.8 L1476.0,1514.8 L1479.0,1514.8 L1482.0,1514.8 L1485.0,1514.8 L1488.0,1514.8 L1491.0,1514.8 L1494.0,1514.8 L1497.0,1514.8 L1500.0,1514.8 L1503.0,1514.7 L1506.0,1514.7 L1509.0,1514.7 L1512.0,1514.7 L1515.0,1514.7 L1518.0,1514.6 L1521.0,1514.6 L1524.0,1514.5 L1527.0,1514.5 L1530.0,1514.4 L1533.0,1514.3 L1536.0,1514.2 L1539.0,1514.1 L1542.0,1513.9 L1545.0,1513.8 L1548.0,1513.6 L1551.0,1513.3 L1554.0,1513.0 L1557.0,1512.7 L1560.0,1512.3 L1563.0,1511.8 L1566.0,1511.3 L1569.0,1510.7 L1572.0,1510.0 L1575.0,1509.2 L1578.0,1508.3 L1581.0,1507.3 L1584.0,1506.1 L1587.0,1504.8 L1590.0,1503.3 L1593.0,1501.6 L1596.0,1499.8 L1599.0,1497.7 L1602.0,1495.4 L1605.0,1492.9 L1608.0,1490.2 L1611.0,1487.2 L1614.0,1483.9 L1617.0,1480.3 L1620.0,1476.5 L1623.0,1472.3 L1626.0,1467.9 L1629.0,1463.2 L1632.0,1458.2 L1635.0,1452.9 L1638.0,1447.3 L1641.0,1441.5 L1644.0,1435.4 L1647.0,1429.1 L1650.0,1422.6 L1653.0,1415.9 L1656.0,1409.1 L1659.0,1402.1 L1662.0,1395.1 L1665.0,1388.1 L1668.0,1381.1 L1671.0,1374.2 L1674.0,1367.3 L1677.0,1360.7 L1680.0,1354.3 L1683.0,1348.1 L1686.0,1342.3 L1689.0,1336.9 L1692.0,1331.8 L1695.0,1327.3 L1698.0,1323.2 L1701.0,1319.7 L1704.0,1316.8 L1707.0,1314.4 L1710.0,1312.7 L1713.0,1311.7 L1716.0,1311.3 L1719.0,1311.6 L1722.0,1312.5 L1725.0,1314.1 L1728.0,1316.3 L1731.0,1319.1 L1734.0,1322.5 L1737.0,1326.4 L1740.0,1330.9 L1743.0,1335.8 L1746.0,1341.2 L1749.0,1346.9 L1752.0,1353.0 L1755.0,1359.4 L1758.0,1366.0 L1761.0,1372.8 L1764.0,1379.7 L1767.0,1386.7 L1770.0,1393.7 L1773.0,1400.7 L1776.0,1407.7 L1779.0,1414.5 L1782.0,1421.2 L1785.0,1427.8 L1788.0,1434.1 L1791.0,1440.3 L1794.0,1446.2 L1797.0,1451.8 L1800.0,1457.1 L1803.0,1462.2 L1806.0,1467.0 L1809.0,1471.5 L1812.0,1475.7 L1815.0,1479.6 L1818.0,1483.2 L1821.0,1486.5 L1824.0,1489.6 L1827.0,1492.4 L1830.0,1494.9 L1833.0,1497.3 L1836.0,1499.4 L1839.0,1501.3 L1842.0,1503.0 L1845.0,1504.5 L1848.0,1505.8 L1851.0,1507.0 L1854.0,1508.1 L1857.0,1509.0 L1860.0,1509.9 L1863.0,1510.6 L1866.0,1511.2 L1869.0,1511.7 L1872.0,1512.2 L1875.0,1512.6 L1878.0,1513.0 L1881.0,1513.3 L1884.0,1513.5 L1887.0,1513.7 L1890.0,1513.9 L1893.0,1514.1 L1896.0,1514.2 L1899.0,1514.3 L1902.0,1514.4 L1905.0,1514.5 L1908.0,1514.5 L1911.0,1514.6 L1914.0,1514.6 L1917.0,1514.7 L1920.0,1514.7 L1923.0,1514.7 L1926.0,1514.7 L1929.0,1514.7 L1932.0,1514.8 L1935.0,1514.8 L1938.0,1514.8 L1941.0,1514.8 L1944.0,1514.8 L1947.0,1514.8 L1950.0,1514.8 L1953.0,1514.8 L1956.0,1514.8 L1959.0,1514.8 L1962.0,1514.8 L1965.0,1514.8 L1968.0,1514.8 L1971.0,1514.8 L1974.0,1514.8 L1977.0,1514.8 L1980.0,1514.8 L1983.0,1514.8 L1986.0,1514.8 L1989.0,1514.8 L1992.0,1514.8 L1995.0,1514.8 L1998.0,1514.8 L2001.0,1514.8 L2004.0,1514.8 L2007.0,1514.8 L2010.0,1514.8 L2013.0,1514.8 L2016.0,1514.8 L2019.0,1514.8 L2022.0,1514.8 L2025.0,1514.8 L2028.0,1514.8 L2031.0,1514.8 L2034.0,1514.8 L2037.0,1514.8 L2040.0,1514.8 L2043.0,1514.8 L2046.0,1514.8 L2049.0,1514.8 L2052.0,1514.8 L2055.0,1514.8 L2058.0,1514.8 L2061.0,1514.8 L2064.0,1514.8 L2067.0,1514.8 L2070.0,1514.8 L2073.0,1514.8 L2076.0,1514.8 L2079.0,1514.8 L2082.0,1514.8 L2085.0,1514.8 L2088.0,1514.8 L2091.0,1514.8 L2094.0,1514.8 L2097.0,1514.8 L2100.0,1514.8 L2103.0,1514.8 L2106.0,1514.8 L2109.0,1514.8 L2112.0,1514.8 L2115.0,1514.8 L2118.0,1514.8 L2121.0,1514.8 L2124.0,1514.8 L2127.0,1514.8 L2130.0,1514.8 L2133.0,1514.8 L2136.0,1514.8 L2139.0,1514.8 L2142.0,1514.8 L2145.0,1514.8 L2148.0,1514.8 L2151.0,1514.8 L2154.0,1514.8 L2157.0,1514.8 L2160.0,1514.8 L2163.0,1514.8 L2166.0,1514.8 L2169.0,1514.8 L2172.0,1514.8 L2175.0,1514.8 L2178.0,1514.8 L2181.0,1514.8 L2184.0,1514.8 L2187.0,1514.8 L2190.0,1514.8 L2193.0,1514.8 L2196.0,1514.8 L2199.0,1514.8 L2202.0,1514.8 L2205.0,1514.8 L2208.0,1514.8 L2211.0,1514.8 L2214.0,1514.8 L2217.0,1514.8 L2220.0,1514.8 L2223.0,1514.8 L2226.0,1514.8 L2229.0,1514.8 L2232.0,1514.8 L2235.0,1514.8 L2238.0,1514.8 L2241.0,1514.8 L2244.0,1514.8 L2247.0,1514.8 L2250.0,1514.8 L2253.0,1514.8 L2256.0,1514.8 L2259.0,1514.8 L2262.0,1514.8 L2265.0,1514.8 L2268.0,1514.8 L2271.0,1514.8 L2274.0,1514.8 L2277.0,1514.8 L2280.0,1514.8 L2283.0,1514.8 L2286.0,1514.8 L2289.0,1514.8 L2292.0,1514.8 L2295.0,1514.8 L2298.0,1514.8 L2301.0,1514.8 L2304.0,1514.8 L2307.0,1514.8 L2310.0,1514.8 L2313.0,1514.8 L2316.0,1514.8 L2319.0,1514.8 L2322.0,1514.8 L2325.0,1514.8 L2328.0,1514.8 L2331.0,1514.8 L2334.0,1514.8 L2337.0,1514.8 L2340.0,1514.8 L2343.0,1514.8 L2346.0,1514.8 L2349.0,1514.8 L2352.0,1514.8 L2355.0,1514.8" fill="none" stroke="#111" stroke-width="2.7" stroke-dasharray="11.5,8"/>
<path d="M216.0,385.6 L218.5,385.6 L221.4,385.6 L224.1,385.6 L227.0,385.6 L230.0,385.6 L233.0,385.6 L236.0,385.6 L239.0,385.6 L242.0,385.6 L245.0,385.6 L248.0,385.6 L251.0,385.6 L254.0,385.6 L257.0,385.6 L260.0,385.6 L263.0,385.6 L266.0,385.6 L269.0,385.6 L272.0,385.6 L275.0,385.6 L278.0,385.6 L281.0,385.6 L284.0,385.6 L287.0,385.6 L290.0,385.6 L293.0,385.6 L296.0,385.6 L299.0,385.6 L302.0,385.6 L305.0,385.6 L308.0,385.6 L311.0,385.6 L314.0,385.6 L317.0,385.6 L320.0,385.6 L323.0,385.6 L326.0,385.6 L329.0,385.6 L332.0,385.6 L335.0,385.6 L338.0,385.6 L341.0,385.6 L344.0,385.6 L347.0,385.6 L350.0,385.6 L353.0,385.6 L356.0,385.6 L359.0,385.6 L362.0,385.6 L365.0,385.6 L368.0,385.6 L371.0,385.6 L374.0,385.6 L377.0,385.6 L380.0,385.6 L383.0,385.6 L386.0,385.6 L389.0,385.6 L392.0,385.6 L395.0,385.6 L398.0,385.6 L401.0,385.6 L404.0,385.6 L407.0,385.6 L410.0,385.6 L413.0,385.6 L416.0,385.6 L419.0,385.6 L422.0,385.6 L425.0,385.6 L428.0,385.6 L431.0,385.6 L434.0,385.6 L437.0,385.6 L440.0,385.6 L443.0,385.6 L446.0,385.6 L449.0,385.6 L452.0,385.6 L455.0,385.6 L458.0,385.6 L461.0,385.6 L464.0,385.6 L467.0,385.6 L470.0,385.6 L473.0,385.6 L476.0,385.6 L479.0,385.6 L482.0,385.6 L485.0,385.6 L488.0,385.6 L491.0,385.6 L494.0,385.6 L497.0,385.7 L500.0,385.7 L503.0,385.7 L506.0,385.7 L509.0,385.7 L512.0,385.7 L515.0,385.7 L518.0,385.7 L521.0,385.7 L524.0,385.7 L527.0,385.7 L530.0,385.7 L533.0,385.7 L536.0,385.7 L539.0,385.7 L542.0,385.7 L545.0,385.7 L548.0,385.7 L551.0,385.7 L554.0,385.7 L557.0,385.7 L560.0,385.7 L563.0,385.7 L566.0,385.7 L569.0,385.7 L572.0,385.7 L575.0,385.7 L578.0,385.7 L581.0,385.7 L584.0,385.7 L587.0,385.7 L590.0,385.7 L593.0,385.7 L596.0,385.7 L599.0,385.7 L602.0,385.7 L605.0,385.7 L608.0,385.7 L611.0,385.7 L614.0,385.7 L617.0,385.7 L620.0,385.7 L623.0,385.7 L626.0,385.8 L629.0,385.8 L632.0,385.8 L635.0,385.8 L638.0,385.8 L641.0,385.8 L644.0,385.8 L647.0,385.8 L650.0,385.8 L653.0,385.8 L656.0,385.8 L659.0,385.7 L662.0,385.7 L665.0,385.7 L668.0,385.6 L671.0,385.5 L674.0,385.5 L677.0,385.4 L680.0,385.3 L683.0,385.3 L686.0,385.2 L689.0,385.1 L692.0,385.0 L695.0,384.9 L698.0,384.8 L701.0,384.7 L704.0,384.6 L707.0,384.6 L710.0,384.5 L713.0,384.4 L716.0,384.3 L719.0,384.2 L722.0,384.0 L725.0,383.9 L728.0,383.8 L731.0,383.7 L734.0,383.5 L737.0,383.4 L740.0,383.3 L743.0,383.1 L746.0,383.0 L748.9,382.8 L751.9,382.7 L754.9,382.5 L757.9,382.4 L760.9,382.2 L763.9,382.0 L766.9,381.9 L769.9,381.7 L772.9,381.5 L775.9,381.3 L778.9,381.1 L781.9,380.9 L784.9,380.7 L787.9,380.5 L790.9,380.3 L793.9,380.1 L796.9,379.8 L799.8,379.6 L802.8,379.3 L805.8,379.0 L808.8,378.7 L811.8,378.4 L814.8,378.1 L817.8,377.8 L820.7,377.4 L823.7,377.1 L826.7,376.8 L829.7,376.4 L832.6,376.0 L835.6,375.7 L838.6,375.3 L841.6,374.9 L844.5,374.5 L847.5,374.1 L850.5,373.6 L853.5,373.2 L856.4,372.8 L859.4,372.3 L862.4,371.9 L865.3,371.5 L868.3,371.1 L871.3,370.7 L874.3,370.3 L877.2,369.9 L880.2,369.6 L883.2,369.2 L886.2,368.9 L889.2,368.6 L892.1,368.2 L895.1,367.9 L898.1,367.6 L901.1,367.3 L904.1,367.0 L907.1,366.7 L910.0,366.4 L913.0,366.1 L916.0,365.8 L919.0,365.5 L922.0,365.2 L925.0,365.0 L928.0,364.7 L930.9,364.4 L933.9,364.2 L936.9,363.9 L939.9,363.6 L942.9,363.4 L945.9,363.1 L948.9,362.8 L951.9,362.5 L954.8,362.3 L957.8,362.0 L960.8,361.7 L963.8,361.4 L966.8,361.2 L969.8,360.9 L972.8,360.6 L975.8,360.3 L978.7,360.0 L981.7,359.6 L984.7,359.3 L987.7,358.9 L990.6,358.5 L993.6,358.1 L996.6,357.7 L999.6,357.2 L1002.5,356.7 L1005.5,356.3 L1008.4,355.8 L1011.4,355.3 L1014.4,354.9 L1017.3,354.4 L1020.3,353.9 L1023.3,353.5 L1026.2,353.1 L1029.2,352.6 L1032.2,352.2 L1035.1,351.8 L1038.1,351.4 L1041.1,351.0 L1044.1,350.6 L1047.0,350.3 L1050.0,349.9 L1053.0,349.5 L1056.0,349.1 L1058.9,348.7 L1061.9,348.2 L1064.9,347.8 L1067.8,347.4 L1070.8,346.9 L1073.8,346.5 L1076.7,346.0 L1079.7,345.5 L1082.7,345.0 L1085.6,344.6 L1088.6,344.1 L1091.5,343.5 L1094.5,343.0 L1097.4,342.5 L1100.4,342.0 L1103.4,341.5 L1106.3,340.9 L1109.3,340.4 L1112.2,339.9 L1115.2,339.3 L1118.1,338.8 L1121.1,338.2 L1124.0,337.6 L1126.9,337.0 L1129.9,336.3 L1132.8,335.7 L1135.7,335.0 L1138.6,334.2 L1141.5,333.5 L1144.4,332.7 L1147.3,331.8 L1150.2,331.0 L1153.0,330.2 L1155.9,329.3 L1158.8,328.5 L1161.7,327.7 L1164.6,326.9 L1167.5,326.1 L1170.4,325.3 L1173.2,324.4 L1176.1,323.6 L1179.0,322.8 L1181.9,321.9 L1184.7,321.0 L1187.6,320.1 L1190.4,319.1 L1193.3,318.2 L1196.1,317.2 L1199.0,316.2 L1201.8,315.3 L1204.7,314.4 L1207.5,313.5 L1210.4,312.7 L1213.3,311.8 L1216.2,311.0 L1219.1,310.1 L1221.9,309.3 L1224.8,308.3 L1227.6,307.4 L1230.5,306.4 L1233.3,305.4 L1236.1,304.4 L1238.9,303.4 L1241.8,302.4 L1244.6,301.4 L1247.4,300.3 L1250.2,299.3 L1253.0,298.3 L1255.8,297.2 L1258.7,296.2 L1261.5,295.1 L1264.3,294.1 L1267.1,293.0 L1269.8,291.9 L1272.6,290.7 L1275.4,289.6 L1278.1,288.4 L1280.9,287.2 L1283.7,286.0 L1286.4,284.8 L1289.2,283.7 L1292.0,282.6 L1294.8,281.5 L1297.6,280.5 L1300.4,279.5 L1303.3,278.5 L1306.1,277.5 L1308.9,276.6 L1311.8,275.6 L1314.6,274.6 L1317.4,273.5 L1320.2,272.5 L1323.0,271.4 L1325.8,270.3 L1328.6,269.2 L1331.4,268.0 L1334.1,266.9 L1336.9,265.7 L1339.7,264.5 L1342.4,263.3 L1345.1,262.1 L1347.9,260.9 L1350.6,259.6 L1353.3,258.3 L1356.0,257.0 L1358.7,255.6 L1361.3,254.2 L1364.0,252.8 L1366.6,251.3 L1369.1,249.8 L1371.7,248.2 L1374.2,246.5 L1376.6,244.8 L1379.1,243.1 L1381.5,241.3 L1383.8,239.4 L1386.2,237.6 L1388.5,235.7 L1390.9,233.8 L1393.2,231.9 L1395.5,230.0 L1397.8,228.1 L1400.1,226.1 L1402.3,224.1 L1404.6,222.1 L1406.8,220.1 L1409.0,218.1 L1411.2,216.1 L1413.4,214.0 L1415.5,211.9 L1417.6,209.8 L1419.6,207.6 L1421.5,205.2 L1423.3,202.8 L1425.0,200.4 L1426.6,197.9 L1428.3,195.3 L1429.9,192.9 L1431.7,190.4 L1433.5,188.1 L1435.4,185.8 L1437.4,183.5 L1439.5,181.3 L1441.5,179.2 L1443.6,177.0 L1445.8,174.9 L1447.9,172.8 L1450.2,170.8 L1452.4,168.9 L1454.7,167.0 L1457.1,165.1 L1459.5,163.3 L1462.0,161.6 L1464.5,160.0 L1467.0,158.3 L1469.6,156.8 L1472.2,155.3 L1474.8,153.9 L1477.4,152.5 L1480.1,151.1 L1482.8,149.8 L1485.5,148.4 L1488.2,147.1 L1490.9,145.8 L1493.6,144.6 L1496.3,143.3 L1499.1,142.2 L1501.9,141.1 L1504.7,140.0 L1507.6,139.1 L1510.4,138.3 L1513.3,137.5 L1516.3,136.8 L1519.2,136.2 L1522.1,135.6 L1525.1,135.1 L1528.0,134.6 L1531.0,134.1 L1534.0,133.7 L1536.9,133.3 L1539.9,133.0 L1542.9,132.6 L1545.9,132.4 L1548.9,132.1 L1551.9,131.8 L1554.9,131.6 L1557.8,131.4 L1560.8,131.1 L1563.8,130.9 L1566.8,130.8 L1569.8,130.6 L1572.8,130.5 L1575.8,130.3 L1578.8,130.3 L1581.8,130.2 L1584.8,130.1 L1587.8,130.1 L1590.8,130.0 L1593.8,130.0 L1596.8,130.0 L1599.8,129.9 L1602.8,129.9 L1605.8,129.9 L1608.8,129.8 L1611.8,129.8 L1614.8,129.8 L1617.8,129.8 L1620.8,129.8 L1623.8,129.8 L1626.8,129.8 L1629.8,129.8 L1632.8,129.8 L1635.8,129.8 L1638.8,129.8 L1641.8,129.8 L1644.8,129.8 L1647.8,129.9 L1650.8,129.9 L1653.8,129.9 L1656.8,129.9 L1659.8,129.9 L1662.8,129.9 L1665.8,129.9 L1668.8,129.9 L1671.8,130.0 L1674.8,130.0 L1677.8,130.0 L1680.8,130.0 L1683.8,130.0 L1686.8,130.0 L1689.8,130.1 L1692.8,130.1 L1695.8,130.1 L1698.8,130.1 L1701.8,130.2 L1704.8,130.2 L1707.8,130.2 L1710.8,130.3 L1713.8,130.3 L1716.8,130.3 L1719.8,130.4 L1722.8,130.4 L1725.8,130.4 L1728.8,130.5 L1731.8,130.5 L1734.8,130.5 L1737.8,130.6 L1740.8,130.6 L1743.8,130.6 L1746.8,130.7 L1749.8,130.7 L1752.8,130.8 L1755.8,130.8 L1758.8,130.8 L1761.8,130.9 L1764.8,130.9 L1767.8,130.9 L1770.8,131.0 L1773.8,131.0 L1776.8,131.1 L1779.8,131.1 L1782.8,131.2 L1785.8,131.2 L1788.8,131.3 L1791.8,131.3 L1794.8,131.4 L1797.8,131.5 L1800.8,131.5 L1803.8,131.6 L1806.8,131.7 L1809.8,131.9 L1812.8,132.0 L1815.8,132.2 L1818.8,132.3 L1821.8,132.5 L1824.8,132.7 L1827.8,132.9 L1830.8,133.0 L1833.8,133.2 L1836.8,133.4 L1839.7,133.6 L1842.7,133.7 L1845.7,133.9 L1848.7,134.0 L1851.7,134.1 L1854.7,134.2 L1857.7,134.4 L1860.7,134.5 L1863.7,134.7 L1866.7,135.1 L1869.6,135.6 L1872.5,136.3 L1875.3,137.3 L1878.1,138.3 L1880.9,139.5 L1883.6,140.7 L1886.3,142.0 L1889.0,143.3 L1891.6,144.8 L1894.2,146.3 L1896.8,147.8 L1899.3,149.4 L1901.8,151.1 L1904.2,152.9 L1906.6,154.7 L1908.9,156.6 L1911.2,158.6 L1913.4,160.6 L1915.5,162.7 L1917.5,164.9 L1919.5,167.2 L1921.4,169.5 L1923.2,171.9 L1925.0,174.3 L1926.8,176.7 L1928.6,179.1 L1930.3,181.5 L1932.1,184.0 L1933.8,186.4 L1935.5,188.9 L1937.1,191.4 L1938.7,194.0 L1940.2,196.6 L1941.7,199.2 L1943.1,201.8 L1944.4,204.5 L1945.7,207.2 L1946.9,210.0 L1948.0,212.8 L1949.0,215.6 L1950.0,218.4 L1950.9,221.3 L1951.7,224.1 L1952.5,227.0 L1953.2,230.0 L1953.8,232.9 L1954.4,235.8 L1954.9,238.8 L1955.3,241.8 L1955.8,244.7 L1956.2,247.7 L1956.6,250.7 L1957.0,253.6 L1957.3,256.6 L1957.6,259.6 L1958.0,262.6 L1958.3,265.6 L1958.5,268.6 L1958.8,271.5 L1959.1,274.5 L1959.4,277.5 L1959.7,280.5 L1960.0,283.5 L1960.3,286.5 L1960.6,289.5 L1960.8,292.4 L1961.1,295.4 L1961.5,298.4 L1961.8,301.4 L1962.1,304.4 L1962.5,307.4 L1962.9,310.3 L1963.4,313.3 L1963.8,316.3 L1964.4,319.2 L1965.0,322.1 L1965.7,325.0 L1966.5,327.9 L1967.4,330.8 L1968.5,333.6 L1969.7,336.3 L1971.1,338.9 L1972.7,341.4 L1974.4,343.9 L1976.3,346.2 L1978.4,348.3 L1980.6,350.3 L1982.9,352.1 L1985.4,353.8 L1988.0,355.3 L1990.7,356.6 L1993.4,357.9 L1996.2,359.0 L1999.0,360.1 L2001.8,361.1 L2004.6,362.1 L2007.5,363.0 L2010.3,364.0 L2013.2,364.9 L2016.0,365.8 L2018.9,366.7 L2021.8,367.5 L2024.7,368.2 L2027.6,369.0 L2030.5,369.6 L2033.5,370.3 L2036.4,370.9 L2039.3,371.5 L2042.3,372.1 L2045.2,372.7 L2048.2,373.2 L2051.1,373.7 L2054.1,374.1 L2057.1,374.5 L2060.1,374.8 L2063.0,375.1 L2066.0,375.4 L2069.0,375.6 L2072.0,375.8 L2075.0,376.0 L2078.0,376.2 L2081.0,376.4 L2084.0,376.5 L2087.0,376.7 L2090.0,376.9 L2093.0,377.0 L2096.0,377.2 L2099.0,377.3 L2102.0,377.5 L2105.0,377.7 L2107.9,377.9 L2110.9,378.1 L2113.9,378.2 L2116.9,378.4 L2119.9,378.6 L2122.9,378.7 L2125.9,378.8 L2128.9,379.0 L2131.9,379.1 L2134.9,379.2 L2137.9,379.3 L2140.9,379.4 L2143.9,379.5 L2146.9,379.6 L2149.9,379.7 L2152.9,379.8 L2155.9,379.9 L2158.9,380.0 L2161.9,380.0 L2164.9,380.1 L2167.9,380.2 L2170.9,380.3 L2173.9,380.4 L2176.9,380.4 L2179.9,380.5 L2182.9,380.6 L2185.9,380.7 L2188.9,380.7 L2191.9,380.8 L2194.9,380.9 L2197.9,380.9 L2200.9,381.0 L2203.9,381.0 L2206.9,381.1 L2209.9,381.1 L2212.9,381.2 L2215.9,381.2 L2218.9,381.3 L2221.9,381.3 L2224.9,381.4 L2227.9,381.4 L2230.9,381.4 L2233.9,381.5 L2236.9,381.5 L2239.9,381.5 L2242.9,381.6 L2245.9,381.6 L2248.9,381.6 L2251.9,381.7 L2254.9,381.7 L2257.9,381.7 L2260.9,381.8 L2263.9,381.8 L2266.9,381.8 L2269.9,381.9 L2272.9,381.9 L2275.9,381.9 L2278.9,382.0 L2281.9,382.0 L2284.9,382.0 L2287.9,382.1 L2290.9,382.1 L2293.9,382.1 L2296.9,382.1 L2299.9,382.2 L2302.9,382.2 L2305.9,382.2 L2308.9,382.2 L2311.9,382.2 L2314.9,382.3 L2317.9,382.3 L2320.9,382.3 L2323.9,382.3 L2326.9,382.3 L2329.9,382.3 L2332.9,382.4 L2335.9,382.4 L2338.9,382.4 L2341.9,382.4 L2344.8,382.4 L2347.7,382.4 L2350.4,382.4 L2353.2,382.4 L2355.5,382.4" fill="none" stroke="#008000" stroke-width="5.5" stroke-linejoin="round"/>
<path d="M216.0,673.1 L218.5,673.1 L221.4,673.1 L224.1,673.1 L227.0,673.1 L230.0,673.1 L233.0,673.1 L236.0,673.1 L239.0,673.1 L242.0,673.1 L245.0,673.1 L248.0,673.1 L251.0,673.1 L254.0,673.1 L257.0,673.1 L260.0,673.1 L263.0,673.1 L266.0,673.1 L269.0,673.1 L272.0,673.1 L275.0,673.1 L278.0,673.1 L281.0,673.1 L284.0,673.1 L287.0,673.1 L290.0,673.1 L293.0,673.1 L296.0,673.1 L299.0,673.1 L302.0,673.1 L305.0,673.1 L308.0,673.1 L311.0,673.1 L314.0,673.1 L317.0,673.1 L320.0,673.1 L323.0,673.1 L326.0,673.1 L329.0,673.1 L332.0,673.1 L335.0,673.1 L338.0,673.1 L341.0,673.1 L344.0,673.1 L347.0,673.1 L350.0,673.1 L353.0,673.1 L356.0,673.1 L359.0,673.1 L362.0,673.1 L365.0,673.1 L368.0,673.1 L371.0,673.1 L374.0,673.1 L377.0,673.1 L380.0,673.0 L383.0,673.0 L386.0,673.0 L389.0,673.0 L392.0,673.0 L395.0,673.0 L398.0,673.0 L401.0,673.0 L404.0,673.0 L407.0,673.0 L410.0,673.0 L413.0,673.0 L416.0,673.0 L419.0,673.0 L422.0,673.0 L425.0,673.0 L428.0,673.0 L431.0,673.0 L434.0,673.0 L437.0,673.0 L440.0,673.0 L443.0,673.0 L446.0,673.0 L449.0,673.0 L452.0,673.0 L455.0,673.0 L458.0,673.0 L461.0,673.0 L464.0,673.0 L467.0,673.0 L470.0,673.0 L473.0,673.0 L476.0,673.0 L479.0,673.0 L482.0,673.0 L485.0,673.0 L488.0,673.0 L491.0,673.0 L494.0,672.9 L497.0,672.9 L500.0,672.9 L503.0,672.9 L506.0,672.9 L509.0,672.9 L512.0,672.9 L515.0,672.9 L518.0,672.9 L521.0,672.9 L524.0,672.9 L527.0,672.9 L530.0,672.9 L533.0,672.9 L536.0,672.9 L539.0,672.9 L542.0,672.9 L545.0,672.9 L548.0,672.9 L551.0,672.9 L554.0,672.9 L557.0,672.9 L560.0,672.9 L563.0,672.9 L566.0,672.9 L569.0,672.8 L572.0,672.8 L575.0,672.8 L578.0,672.8 L581.0,672.8 L584.0,672.8 L587.0,672.8 L590.0,672.8 L593.0,672.8 L596.0,672.8 L599.0,672.8 L602.0,672.8 L605.0,672.8 L608.0,672.8 L611.0,672.8 L614.0,672.8 L617.0,672.8 L620.0,672.7 L623.0,672.7 L626.0,672.7 L629.0,672.7 L632.0,672.7 L635.0,672.7 L638.0,672.7 L641.0,672.7 L644.0,672.6 L647.0,672.6 L650.0,672.6 L653.0,672.6 L656.0,672.6 L659.0,672.5 L662.0,672.5 L665.0,672.5 L668.0,672.5 L671.0,672.4 L674.0,672.4 L677.0,672.4 L680.0,672.3 L683.0,672.3 L686.0,672.2 L689.0,672.2 L692.0,672.1 L695.0,672.0 L698.0,671.9 L701.0,671.8 L704.0,671.7 L707.0,671.5 L710.0,671.4 L713.0,671.3 L716.0,671.1 L719.0,671.0 L722.0,670.8 L725.0,670.7 L728.0,670.6 L731.0,670.4 L734.0,670.3 L737.0,670.1 L739.9,670.0 L742.9,669.8 L745.9,669.6 L748.9,669.5 L751.9,669.3 L754.9,669.1 L757.9,668.9 L760.9,668.8 L763.9,668.6 L766.9,668.4 L769.9,668.2 L772.9,668.0 L775.9,667.8 L778.9,667.6 L781.9,667.4 L784.9,667.2 L787.9,667.0 L790.8,666.7 L793.8,666.5 L796.8,666.3 L799.8,666.0 L802.8,665.8 L805.8,665.6 L808.8,665.3 L811.8,665.1 L814.8,664.8 L817.8,664.6 L820.7,664.3 L823.7,664.1 L826.7,663.8 L829.7,663.6 L832.7,663.3 L835.7,663.0 L838.7,662.7 L841.7,662.4 L844.6,662.1 L847.6,661.8 L850.6,661.5 L853.6,661.2 L856.6,660.8 L859.6,660.5 L862.5,660.1 L865.5,659.8 L868.5,659.4 L871.5,659.0 L874.4,658.7 L877.4,658.3 L880.4,657.9 L883.4,657.6 L886.4,657.2 L889.3,656.8 L892.3,656.5 L895.3,656.1 L898.3,655.7 L901.2,655.4 L904.2,655.0 L907.2,654.6 L910.2,654.2 L913.1,653.9 L916.1,653.5 L919.1,653.2 L922.1,652.8 L925.1,652.4 L928.0,652.1 L931.0,651.7 L934.0,651.4 L937.0,651.0 L940.0,650.6 L942.9,650.3 L945.9,650.0 L948.9,649.6 L951.9,649.3 L954.9,649.0 L957.8,648.6 L960.8,648.3 L963.8,648.0 L966.8,647.7 L969.8,647.4 L972.8,647.1 L975.7,646.8 L978.7,646.5 L981.7,646.1 L984.7,645.8 L987.7,645.5 L990.7,645.2 L993.6,644.9 L996.6,644.5 L999.6,644.2 L1002.6,643.9 L1005.6,643.6 L1008.6,643.2 L1011.5,642.9 L1014.5,642.5 L1017.5,642.2 L1020.5,641.8 L1023.4,641.4 L1026.4,641.0 L1029.4,640.6 L1032.4,640.1 L1035.3,639.7 L1038.3,639.2 L1041.2,638.7 L1044.2,638.2 L1047.2,637.7 L1050.1,637.2 L1053.1,636.7 L1056.0,636.2 L1059.0,635.8 L1062.0,635.3 L1064.9,634.8 L1067.9,634.4 L1070.9,634.0 L1073.8,633.6 L1076.8,633.2 L1079.8,632.9 L1082.8,632.5 L1085.7,632.2 L1088.7,631.8 L1091.7,631.4 L1094.7,631.0 L1097.6,630.6 L1100.6,630.2 L1103.6,629.7 L1106.5,629.2 L1109.5,628.7 L1112.4,628.2 L1115.4,627.6 L1118.3,627.0 L1121.3,626.4 L1124.2,625.7 L1127.1,625.0 L1130.0,624.3 L1132.9,623.6 L1135.8,622.8 L1138.7,622.1 L1141.6,621.3 L1144.5,620.6 L1147.5,619.8 L1150.4,619.1 L1153.3,618.3 L1156.2,617.5 L1159.0,616.7 L1161.9,615.9 L1164.8,615.1 L1167.7,614.3 L1170.6,613.4 L1173.4,612.5 L1176.3,611.5 L1179.1,610.5 L1181.9,609.5 L1184.7,608.4 L1187.5,607.4 L1190.3,606.3 L1193.1,605.3 L1196.0,604.3 L1198.8,603.4 L1201.7,602.5 L1204.6,601.7 L1207.5,601.0 L1210.4,600.3 L1213.3,599.6 L1216.2,598.9 L1219.2,598.1 L1222.0,597.3 L1224.9,596.5 L1227.8,595.6 L1230.6,594.7 L1233.5,593.7 L1236.3,592.7 L1239.1,591.7 L1241.9,590.6 L1244.8,589.6 L1247.6,588.6 L1250.4,587.5 L1253.2,586.5 L1256.0,585.5 L1258.8,584.4 L1261.6,583.4 L1264.4,582.3 L1267.2,581.2 L1270.0,580.1 L1272.8,578.9 L1275.6,577.8 L1278.3,576.6 L1281.1,575.4 L1283.8,574.2 L1286.6,573.0 L1289.3,571.9 L1292.1,570.7 L1294.9,569.6 L1297.7,568.6 L1300.5,567.5 L1303.3,566.5 L1306.2,565.5 L1309.0,564.5 L1311.8,563.4 L1314.6,562.3 L1317.4,561.2 L1320.1,560.0 L1322.9,558.8 L1325.6,557.6 L1328.3,556.3 L1331.0,555.0 L1333.8,553.8 L1336.5,552.5 L1339.2,551.3 L1342.0,550.1 L1344.7,548.9 L1347.5,547.7 L1350.2,546.5 L1353.0,545.3 L1355.7,544.0 L1358.4,542.7 L1361.1,541.4 L1363.8,540.0 L1366.4,538.6 L1369.0,537.1 L1371.6,535.6 L1374.1,534.0 L1376.6,532.4 L1379.1,530.7 L1381.6,529.0 L1384.0,527.2 L1386.4,525.4 L1388.7,523.5 L1391.0,521.6 L1393.3,519.7 L1395.6,517.7 L1397.9,515.8 L1400.1,513.7 L1402.3,511.7 L1404.5,509.6 L1406.6,507.5 L1408.7,505.4 L1410.8,503.2 L1412.8,501.0 L1414.8,498.8 L1416.8,496.5 L1418.7,494.2 L1420.5,491.8 L1422.1,489.3 L1423.7,486.8 L1425.3,484.2 L1426.8,481.7 L1428.5,479.2 L1430.3,476.8 L1432.2,474.5 L1434.3,472.4 L1436.4,470.3 L1438.6,468.2 L1440.8,466.2 L1443.0,464.1 L1445.2,462.1 L1447.3,460.0 L1449.5,458.0 L1451.8,455.9 L1454.0,453.9 L1456.3,452.0 L1458.6,450.1 L1460.9,448.2 L1463.4,446.5 L1465.9,444.9 L1468.5,443.4 L1471.1,442.0 L1473.8,440.7 L1476.5,439.4 L1479.2,438.1 L1482.0,436.8 L1484.7,435.6 L1487.4,434.3 L1490.2,433.1 L1492.9,432.0 L1495.7,430.8 L1498.5,429.7 L1501.3,428.6 L1504.1,427.6 L1506.9,426.6 L1509.8,425.7 L1512.7,424.9 L1515.6,424.1 L1518.5,423.4 L1521.4,422.8 L1524.4,422.2 L1527.3,421.7 L1530.3,421.2 L1533.2,420.7 L1536.2,420.2 L1539.1,419.8 L1542.1,419.3 L1545.1,418.9 L1548.1,418.6 L1551.1,418.3 L1554.0,418.0 L1557.0,417.8 L1560.0,417.7 L1563.0,417.5 L1566.0,417.4 L1569.0,417.3 L1572.0,417.2 L1575.0,417.1 L1578.0,417.0 L1581.0,416.9 L1584.0,416.8 L1587.0,416.7 L1590.0,416.6 L1593.0,416.5 L1596.0,416.4 L1599.0,416.3 L1602.0,416.2 L1605.0,416.1 L1608.0,416.0 L1611.0,415.9 L1614.0,415.9 L1617.0,415.8 L1620.0,415.7 L1623.0,415.6 L1626.0,415.6 L1629.0,415.5 L1632.0,415.5 L1635.0,415.4 L1638.0,415.4 L1641.0,415.3 L1644.0,415.3 L1647.0,415.3 L1650.0,415.3 L1653.0,415.3 L1656.0,415.3 L1659.0,415.3 L1662.0,415.3 L1665.0,415.3 L1668.0,415.3 L1671.0,415.4 L1674.0,415.4 L1677.0,415.4 L1680.0,415.4 L1683.0,415.4 L1686.0,415.4 L1689.0,415.5 L1692.0,415.5 L1695.0,415.5 L1698.0,415.6 L1701.0,415.6 L1704.0,415.6 L1707.0,415.6 L1710.0,415.7 L1713.0,415.7 L1716.0,415.8 L1719.0,415.8 L1722.0,415.8 L1725.0,415.9 L1728.0,415.9 L1731.0,416.0 L1734.0,416.0 L1737.0,416.0 L1740.0,416.1 L1743.0,416.1 L1746.0,416.2 L1749.0,416.2 L1752.0,416.3 L1755.0,416.3 L1758.0,416.4 L1761.0,416.4 L1764.0,416.5 L1767.0,416.5 L1770.0,416.6 L1773.0,416.6 L1776.0,416.7 L1779.0,416.7 L1782.0,416.8 L1785.0,416.8 L1788.0,416.9 L1791.0,416.9 L1794.0,417.0 L1797.0,417.0 L1800.0,417.1 L1803.0,417.2 L1806.0,417.2 L1809.0,417.3 L1812.0,417.4 L1815.0,417.4 L1818.0,417.5 L1821.0,417.6 L1824.0,417.7 L1827.0,417.8 L1830.0,417.9 L1833.0,417.9 L1836.0,418.0 L1839.0,418.1 L1842.0,418.2 L1845.0,418.3 L1848.0,418.4 L1851.0,418.5 L1854.0,418.6 L1857.0,418.7 L1860.0,418.8 L1862.9,418.9 L1865.9,419.0 L1868.9,419.1 L1871.9,419.2 L1874.9,419.4 L1877.9,419.5 L1880.9,419.6 L1883.9,419.7 L1886.9,419.8 L1889.9,419.9 L1892.9,420.0 L1895.9,420.1 L1898.9,420.3 L1901.9,420.3 L1904.9,420.4 L1907.9,420.5 L1910.9,420.6 L1913.9,420.7 L1916.9,420.8 L1919.9,421.0 L1922.9,421.2 L1925.8,421.6 L1928.8,422.2 L1931.7,422.9 L1934.5,423.8 L1937.3,424.8 L1940.1,425.9 L1942.9,426.9 L1945.7,428.1 L1948.5,429.3 L1951.2,430.5 L1953.9,431.8 L1956.5,433.2 L1959.1,434.7 L1961.7,436.3 L1964.2,437.9 L1966.6,439.7 L1969.0,441.5 L1971.3,443.4 L1973.5,445.4 L1975.7,447.5 L1977.7,449.7 L1979.7,451.9 L1981.6,454.2 L1983.5,456.6 L1985.3,459.0 L1987.1,461.3 L1988.9,463.7 L1990.7,466.2 L1992.4,468.6 L1994.1,471.1 L1995.7,473.6 L1997.3,476.2 L1998.8,478.8 L2000.2,481.4 L2001.6,484.1 L2002.9,486.8 L2004.1,489.5 L2005.3,492.3 L2006.3,495.1 L2007.3,497.9 L2008.2,500.8 L2009.0,503.7 L2009.7,506.6 L2010.4,509.5 L2011.0,512.4 L2011.7,515.3 L2012.3,518.3 L2012.8,521.2 L2013.4,524.2 L2014.0,527.1 L2014.5,530.1 L2015.0,533.0 L2015.5,536.0 L2015.9,539.0 L2016.4,541.9 L2016.8,544.9 L2017.1,547.9 L2017.5,550.9 L2017.8,553.8 L2018.1,556.8 L2018.4,559.8 L2018.7,562.8 L2019.0,565.8 L2019.3,568.8 L2019.6,571.7 L2020.0,574.7 L2020.3,577.7 L2020.7,580.7 L2021.1,583.7 L2021.5,586.6 L2021.9,589.6 L2022.3,592.6 L2022.8,595.5 L2023.3,598.5 L2023.8,601.5 L2024.3,604.4 L2024.8,607.4 L2025.4,610.3 L2026.2,613.2 L2027.0,616.0 L2028.1,618.8 L2029.3,621.6 L2030.6,624.2 L2032.2,626.8 L2033.9,629.2 L2035.9,631.4 L2037.9,633.6 L2040.1,635.6 L2042.5,637.5 L2044.9,639.2 L2047.4,640.8 L2050.0,642.3 L2052.7,643.7 L2055.3,645.0 L2058.1,646.3 L2060.8,647.4 L2063.6,648.5 L2066.4,649.6 L2069.3,650.6 L2072.1,651.5 L2075.0,652.4 L2077.8,653.3 L2080.7,654.1 L2083.6,654.9 L2086.5,655.6 L2089.5,656.3 L2092.4,657.0 L2095.3,657.6 L2098.2,658.2 L2101.2,658.8 L2104.1,659.3 L2107.1,659.9 L2110.0,660.4 L2113.0,660.8 L2116.0,661.2 L2119.0,661.6 L2121.9,661.9 L2124.9,662.2 L2127.9,662.5 L2130.9,662.8 L2133.9,663.0 L2136.9,663.3 L2139.9,663.5 L2142.9,663.7 L2145.9,663.9 L2148.9,664.0 L2151.9,664.2 L2154.8,664.3 L2157.8,664.5 L2160.8,664.6 L2163.8,664.7 L2166.8,664.8 L2169.8,665.0 L2172.8,665.1 L2175.8,665.2 L2178.8,665.3 L2181.8,665.4 L2184.8,665.5 L2187.8,665.6 L2190.8,665.7 L2193.8,665.8 L2196.8,665.9 L2199.8,665.9 L2202.8,666.0 L2205.8,666.1 L2208.8,666.2 L2211.8,666.3 L2214.8,666.3 L2217.8,666.4 L2220.8,666.5 L2223.8,666.6 L2226.8,666.7 L2229.8,666.7 L2232.8,666.8 L2235.8,666.9 L2238.8,667.0 L2241.8,667.0 L2244.8,667.1 L2247.8,667.2 L2250.8,667.3 L2253.8,667.3 L2256.8,667.4 L2259.8,667.5 L2262.8,667.6 L2265.8,667.6 L2268.8,667.7 L2271.8,667.8 L2274.8,667.8 L2277.8,667.9 L2280.8,668.0 L2283.8,668.0 L2286.8,668.1 L2289.8,668.2 L2292.8,668.2 L2295.8,668.3 L2298.8,668.3 L2301.8,668.4 L2304.8,668.5 L2307.8,668.5 L2310.8,668.6 L2313.8,668.6 L2316.8,668.7 L2319.8,668.8 L2322.8,668.8 L2325.8,668.9 L2328.8,668.9 L2331.8,669.0 L2334.8,669.0 L2337.8,669.1 L2340.8,669.1 L2343.8,669.1 L2346.7,669.2 L2349.5,669.2 L2352.2,669.3 L2355.5,669.3" fill="none" stroke="#ff00ff" stroke-width="5.5" stroke-linejoin="round"/>
<path d="M216.0,957.0 L218.5,957.0 L221.4,957.0 L224.1,957.0 L227.0,957.0 L230.0,957.0 L233.0,957.0 L236.0,957.0 L239.0,957.0 L242.0,957.0 L245.0,957.0 L248.0,957.1 L251.0,957.1 L254.0,957.1 L257.0,957.1 L260.0,957.1 L263.0,957.1 L266.0,957.1 L269.0,957.1 L272.0,957.1 L275.0,957.1 L278.0,957.1 L281.0,957.1 L284.0,957.1 L287.0,957.1 L290.0,957.1 L293.0,957.1 L296.0,957.1 L299.0,957.1 L302.0,957.1 L305.0,957.1 L308.0,957.1 L311.0,957.1 L314.0,957.1 L317.0,957.1 L320.0,957.1 L323.0,957.1 L326.0,957.1 L329.0,957.1 L332.0,957.1 L335.0,957.1 L338.0,957.1 L341.0,957.2 L344.0,957.2 L347.0,957.2 L350.0,957.2 L353.0,957.2 L356.0,957.2 L359.0,957.2 L362.0,957.2 L365.0,957.2 L368.0,957.2 L371.0,957.2 L374.0,957.2 L377.0,957.2 L380.0,957.2 L383.0,957.2 L386.0,957.2 L389.0,957.2 L392.0,957.2 L395.0,957.2 L398.0,957.2 L401.0,957.2 L404.0,957.2 L407.0,957.2 L410.0,957.2 L413.0,957.2 L416.0,957.2 L419.0,957.2 L422.0,957.2 L425.0,957.2 L428.0,957.2 L431.0,957.2 L434.0,957.2 L437.0,957.2 L440.0,957.2 L443.0,957.2 L446.0,957.2 L449.0,957.2 L452.0,957.2 L455.0,957.2 L458.0,957.2 L461.0,957.2 L464.0,957.2 L467.0,957.2 L470.0,957.2 L473.0,957.2 L476.0,957.2 L479.0,957.2 L482.0,957.2 L485.0,957.2 L488.0,957.2 L491.0,957.2 L494.0,957.2 L497.0,957.2 L500.0,957.2 L503.0,957.2 L506.0,957.2 L509.0,957.2 L512.0,957.2 L515.0,957.2 L518.0,957.2 L521.0,957.2 L524.0,957.2 L527.0,957.2 L530.0,957.2 L533.0,957.2 L536.0,957.2 L539.0,957.2 L542.0,957.2 L545.0,957.2 L548.0,957.2 L551.0,957.2 L554.0,957.2 L557.0,957.2 L560.0,957.2 L563.0,957.2 L566.0,957.2 L569.0,957.1 L572.0,957.1 L575.0,957.1 L578.0,957.1 L581.0,957.0 L584.0,957.0 L587.0,957.0 L590.0,957.0 L593.0,956.9 L596.0,956.9 L599.0,956.9 L602.0,956.8 L605.0,956.8 L608.0,956.8 L611.0,956.7 L614.0,956.7 L617.0,956.7 L620.0,956.6 L623.0,956.6 L626.0,956.6 L629.0,956.5 L632.0,956.5 L635.0,956.5 L638.0,956.4 L641.0,956.4 L644.0,956.4 L647.0,956.3 L650.0,956.3 L653.0,956.3 L656.0,956.2 L659.0,956.2 L662.0,956.1 L665.0,956.1 L668.0,956.1 L671.0,956.0 L674.0,956.0 L677.0,955.9 L680.0,955.9 L683.0,955.9 L686.0,955.8 L689.0,955.8 L692.0,955.7 L695.0,955.6 L698.0,955.6 L701.0,955.5 L704.0,955.5 L707.0,955.4 L710.0,955.3 L713.0,955.3 L716.0,955.2 L719.0,955.1 L722.0,955.0 L725.0,954.9 L728.0,954.8 L731.0,954.7 L734.0,954.6 L737.0,954.4 L740.0,954.3 L743.0,954.2 L746.0,954.0 L749.0,953.9 L752.0,953.7 L755.0,953.6 L757.9,953.4 L760.9,953.3 L763.9,953.1 L766.9,953.0 L769.9,952.8 L772.9,952.7 L775.9,952.5 L778.9,952.3 L781.9,952.1 L784.9,952.0 L787.9,951.8 L790.9,951.6 L793.9,951.4 L796.9,951.2 L799.9,951.0 L802.9,950.8 L805.9,950.6 L808.9,950.4 L811.9,950.2 L814.8,950.0 L817.8,949.8 L820.8,949.6 L823.8,949.4 L826.8,949.1 L829.8,948.9 L832.8,948.7 L835.8,948.5 L838.8,948.2 L841.8,948.0 L844.8,947.7 L847.7,947.5 L850.7,947.3 L853.7,947.0 L856.7,946.8 L859.7,946.5 L862.7,946.3 L865.7,946.0 L868.7,945.7 L871.7,945.5 L874.7,945.2 L877.6,945.0 L880.6,944.7 L883.6,944.4 L886.6,944.2 L889.6,943.9 L892.6,943.7 L895.6,943.4 L898.6,943.1 L901.6,942.9 L904.5,942.7 L907.5,942.4 L910.5,942.2 L913.5,941.9 L916.5,941.7 L919.5,941.5 L922.5,941.2 L925.5,941.0 L928.5,940.8 L931.5,940.5 L934.4,940.3 L937.4,940.0 L940.4,939.8 L943.4,939.6 L946.4,939.3 L949.4,939.1 L952.4,938.8 L955.4,938.6 L958.4,938.4 L961.4,938.1 L964.3,937.9 L967.3,937.6 L970.3,937.4 L973.3,937.1 L976.3,936.9 L979.3,936.6 L982.3,936.3 L985.3,936.1 L988.3,935.8 L991.2,935.5 L994.2,935.2 L997.2,935.0 L1000.2,934.7 L1003.2,934.4 L1006.2,934.1 L1009.2,933.8 L1012.1,933.4 L1015.1,933.1 L1018.1,932.8 L1021.1,932.5 L1024.1,932.1 L1027.1,931.8 L1030.0,931.5 L1033.0,931.1 L1036.0,930.8 L1039.0,930.4 L1041.9,930.0 L1044.9,929.7 L1047.9,929.3 L1050.9,928.9 L1053.9,928.5 L1056.8,928.2 L1059.8,927.8 L1062.8,927.4 L1065.8,927.0 L1068.7,926.7 L1071.7,926.3 L1074.7,925.9 L1077.7,925.6 L1080.6,925.2 L1083.6,924.9 L1086.6,924.5 L1089.6,924.2 L1092.6,923.8 L1095.5,923.4 L1098.5,923.1 L1101.5,922.7 L1104.5,922.4 L1107.5,922.0 L1110.4,921.6 L1113.4,921.2 L1116.4,920.8 L1119.4,920.4 L1122.3,920.0 L1125.3,919.5 L1128.3,919.1 L1131.2,918.6 L1134.2,918.1 L1137.1,917.6 L1140.1,917.0 L1143.0,916.4 L1146.0,915.8 L1148.9,915.2 L1151.8,914.6 L1154.8,914.0 L1157.7,913.4 L1160.7,912.8 L1163.6,912.3 L1166.5,911.7 L1169.5,911.2 L1172.4,910.6 L1175.4,910.1 L1178.3,909.6 L1181.3,909.0 L1184.2,908.3 L1187.1,907.5 L1190.0,906.7 L1192.9,905.9 L1195.7,905.0 L1198.6,904.1 L1201.4,903.1 L1204.3,902.1 L1207.1,901.1 L1209.9,900.1 L1212.7,899.0 L1215.5,897.9 L1218.2,896.7 L1221.0,895.6 L1223.8,894.5 L1226.6,893.4 L1229.4,892.3 L1232.2,891.3 L1235.0,890.2 L1237.9,889.2 L1240.7,888.2 L1243.5,887.2 L1246.3,886.2 L1249.2,885.2 L1252.0,884.3 L1254.9,883.4 L1257.7,882.4 L1260.6,881.5 L1263.4,880.5 L1266.3,879.6 L1269.1,878.5 L1271.9,877.4 L1274.6,876.3 L1277.4,875.1 L1280.1,873.9 L1282.9,872.6 L1285.6,871.4 L1288.3,870.2 L1291.1,869.0 L1293.9,867.9 L1296.6,866.7 L1299.4,865.6 L1302.2,864.5 L1305.0,863.4 L1307.8,862.3 L1310.6,861.2 L1313.4,860.1 L1316.1,858.9 L1318.9,857.8 L1321.7,856.7 L1324.5,855.5 L1327.2,854.3 L1330.0,853.2 L1332.8,852.0 L1335.5,850.8 L1338.3,849.6 L1341.0,848.5 L1343.8,847.3 L1346.6,846.1 L1349.3,845.0 L1352.1,843.8 L1354.8,842.6 L1357.6,841.4 L1360.3,840.2 L1363.1,839.0 L1365.8,837.7 L1368.5,836.4 L1371.1,835.0 L1373.8,833.6 L1376.4,832.1 L1379.0,830.6 L1381.5,829.0 L1384.0,827.3 L1386.4,825.6 L1388.8,823.8 L1391.2,821.9 L1393.4,819.9 L1395.6,817.9 L1397.8,815.8 L1399.8,813.6 L1401.9,811.4 L1403.9,809.2 L1405.8,806.9 L1407.8,804.7 L1409.7,802.3 L1411.6,800.0 L1413.5,797.7 L1415.4,795.4 L1417.4,793.1 L1419.3,790.8 L1421.1,788.4 L1422.9,786.0 L1424.7,783.6 L1426.4,781.1 L1428.0,778.6 L1429.7,776.1 L1431.3,773.6 L1432.9,771.1 L1434.4,768.5 L1435.9,765.9 L1437.5,763.3 L1439.0,760.7 L1440.5,758.1 L1442.1,755.6 L1443.7,753.1 L1445.4,750.6 L1447.2,748.2 L1449.1,745.9 L1451.0,743.6 L1453.0,741.4 L1455.1,739.3 L1457.3,737.2 L1459.5,735.1 L1461.7,733.1 L1463.9,731.1 L1466.3,729.2 L1468.7,727.4 L1471.1,725.8 L1473.7,724.3 L1476.4,722.9 L1479.1,721.7 L1481.9,720.5 L1484.7,719.4 L1487.5,718.4 L1490.3,717.4 L1493.1,716.4 L1496.0,715.5 L1498.8,714.6 L1501.7,713.7 L1504.6,712.9 L1507.5,712.1 L1510.4,711.3 L1513.3,710.6 L1516.2,709.9 L1519.1,709.3 L1522.1,708.6 L1525.0,708.0 L1528.0,707.4 L1530.9,706.9 L1533.9,706.4 L1536.8,705.9 L1539.8,705.4 L1542.8,705.0 L1545.7,704.6 L1548.7,704.3 L1551.7,704.0 L1554.7,703.7 L1557.7,703.4 L1560.7,703.2 L1563.6,703.0 L1566.6,702.7 L1569.6,702.5 L1572.6,702.3 L1575.6,702.2 L1578.6,702.0 L1581.6,701.8 L1584.6,701.6 L1587.6,701.5 L1590.6,701.3 L1593.6,701.1 L1596.6,700.9 L1599.6,700.8 L1602.6,700.6 L1605.6,700.4 L1608.6,700.3 L1611.6,700.1 L1614.6,700.0 L1617.6,699.8 L1620.6,699.7 L1623.6,699.6 L1626.5,699.5 L1629.5,699.4 L1632.5,699.3 L1635.5,699.2 L1638.5,699.1 L1641.5,699.1 L1644.5,699.0 L1647.5,699.0 L1650.5,699.0 L1653.5,699.0 L1656.5,699.0 L1659.5,699.0 L1662.5,699.0 L1665.5,699.0 L1668.5,699.0 L1671.5,699.0 L1674.0,699.0 L1677.0,699.0 L1679.5,699.0 L1682.5,699.0 L1685.0,699.0 L1687.5,699.0 L1690.0,699.0 L1693.0,699.0 L1695.5,699.0 L1698.5,699.0 L1701.0,699.0 L1704.0,699.0 L1707.0,699.0 L1710.0,699.0 L1713.0,699.0 L1716.0,699.0 L1719.0,699.0 L1722.0,699.0 L1725.0,699.0 L1728.0,699.1 L1731.0,699.1 L1734.0,699.2 L1737.0,699.3 L1740.0,699.5 L1743.0,699.6 L1746.0,699.8 L1749.0,699.9 L1752.0,700.1 L1755.0,700.3 L1758.0,700.6 L1761.0,700.8 L1764.0,701.0 L1767.0,701.2 L1770.0,701.4 L1773.0,701.6 L1776.0,701.9 L1778.9,702.1 L1781.9,702.2 L1784.9,702.4 L1787.9,702.6 L1790.9,702.8 L1793.9,702.9 L1796.9,703.1 L1799.9,703.3 L1802.9,703.4 L1805.9,703.6 L1808.9,703.7 L1811.9,703.9 L1814.9,704.1 L1817.9,704.2 L1820.9,704.4 L1823.9,704.6 L1826.9,704.8 L1829.9,705.0 L1832.8,705.3 L1835.8,705.5 L1838.8,705.7 L1841.8,706.0 L1844.8,706.3 L1847.8,706.6 L1850.8,707.0 L1853.7,707.4 L1856.7,707.9 L1859.6,708.4 L1862.6,709.0 L1865.5,709.6 L1868.4,710.3 L1871.4,711.0 L1874.3,711.7 L1877.2,712.4 L1880.1,713.2 L1883.0,714.0 L1885.8,714.8 L1888.7,715.8 L1891.5,716.8 L1894.3,717.9 L1897.0,719.2 L1899.7,720.5 L1902.2,722.0 L1904.7,723.7 L1907.2,725.4 L1909.6,727.2 L1911.9,729.1 L1914.2,731.0 L1916.5,733.0 L1918.6,735.1 L1920.7,737.2 L1922.7,739.5 L1924.6,741.8 L1926.4,744.1 L1928.1,746.6 L1929.7,749.1 L1931.2,751.7 L1932.6,754.4 L1933.9,757.1 L1935.0,759.8 L1936.1,762.6 L1937.0,765.5 L1937.9,768.4 L1938.7,771.2 L1939.4,774.2 L1940.1,777.1 L1940.8,780.0 L1941.4,782.9 L1942.0,785.9 L1942.5,788.8 L1943.0,791.8 L1943.5,794.7 L1944.0,797.7 L1944.4,800.7 L1944.9,803.6 L1945.3,806.6 L1945.7,809.6 L1946.1,812.5 L1946.5,815.5 L1946.9,818.5 L1947.3,821.5 L1947.7,824.4 L1948.0,827.4 L1948.4,830.4 L1948.7,833.4 L1949.0,836.4 L1949.3,839.3 L1949.6,842.3 L1949.9,845.3 L1950.2,848.3 L1950.5,851.3 L1950.8,854.3 L1951.1,857.3 L1951.4,860.2 L1951.7,863.2 L1952.0,866.2 L1952.2,869.2 L1952.6,872.2 L1952.9,875.2 L1953.2,878.2 L1953.6,881.1 L1954.0,884.1 L1954.5,887.1 L1954.9,890.0 L1955.4,893.0 L1956.0,895.9 L1956.5,898.9 L1957.2,901.8 L1957.8,904.7 L1958.5,907.7 L1959.2,910.6 L1960.0,913.5 L1960.9,916.3 L1962.0,919.1 L1963.3,921.7 L1964.9,924.2 L1966.7,926.5 L1968.9,928.5 L1971.2,930.3 L1973.7,931.9 L1976.3,933.3 L1979.0,934.6 L1981.8,935.8 L1984.6,936.9 L1987.4,937.9 L1990.2,938.8 L1993.1,939.7 L1996.0,940.5 L1998.9,941.2 L2001.8,941.9 L2004.8,942.5 L2007.7,943.2 L2010.6,943.7 L2013.6,944.3 L2016.5,944.8 L2019.5,945.3 L2022.5,945.7 L2025.4,946.1 L2028.4,946.5 L2031.4,946.8 L2034.4,947.1 L2037.4,947.4 L2040.4,947.6 L2043.3,947.9 L2046.3,948.1 L2049.3,948.3 L2052.3,948.5 L2055.3,948.7 L2058.3,948.8 L2061.3,949.0 L2064.3,949.1 L2067.3,949.3 L2070.3,949.4 L2073.3,949.6 L2076.3,949.7 L2079.3,949.8 L2082.3,950.0 L2085.3,950.1 L2088.3,950.2 L2091.3,950.3 L2094.3,950.4 L2097.3,950.5 L2100.3,950.6 L2103.3,950.7 L2106.3,950.8 L2109.3,950.9 L2112.3,951.0 L2115.3,951.1 L2118.3,951.2 L2121.3,951.3 L2124.3,951.4 L2127.3,951.5 L2130.3,951.6 L2133.3,951.7 L2136.3,951.8 L2139.3,951.9 L2142.3,952.0 L2145.2,952.1 L2148.2,952.1 L2151.2,952.2 L2154.2,952.3 L2157.2,952.4 L2160.2,952.5 L2163.2,952.6 L2166.2,952.6 L2169.2,952.7 L2172.2,952.8 L2175.2,952.9 L2178.2,952.9 L2181.2,953.0 L2184.2,953.1 L2187.2,953.1 L2190.2,953.2 L2193.2,953.3 L2196.2,953.3 L2199.2,953.4 L2202.2,953.4 L2205.2,953.5 L2208.2,953.5 L2211.2,953.6 L2214.2,953.7 L2217.2,953.7 L2220.2,953.8 L2223.2,953.8 L2226.2,953.9 L2229.2,953.9 L2232.2,954.0 L2235.2,954.1 L2238.2,954.1 L2241.2,954.2 L2244.2,954.2 L2247.2,954.3 L2250.2,954.3 L2253.2,954.4 L2256.2,954.4 L2259.2,954.5 L2262.2,954.5 L2265.2,954.6 L2268.2,954.6 L2271.2,954.7 L2274.2,954.7 L2277.2,954.8 L2280.2,954.8 L2283.2,954.8 L2286.2,954.9 L2289.2,954.9 L2292.2,955.0 L2295.2,955.0 L2298.2,955.1 L2301.2,955.1 L2304.2,955.1 L2307.2,955.2 L2310.2,955.2 L2313.2,955.2 L2316.2,955.3 L2319.2,955.3 L2322.2,955.3 L2325.2,955.4 L2328.2,955.4 L2331.2,955.4 L2334.2,955.4 L2337.2,955.5 L2340.2,955.5 L2343.2,955.5 L2346.2,955.5 L2349.0,955.6 L2351.8,955.6 L2355.5,955.6" fill="none" stroke="#0000ff" stroke-width="5.5" stroke-linejoin="round"/>
<path d="M216.0,1239.8 L218.5,1239.8 L221.4,1239.8 L224.1,1239.8 L227.0,1239.8 L230.0,1239.9 L233.0,1239.9 L236.0,1239.9 L239.0,1239.9 L242.0,1239.9 L245.0,1239.9 L248.0,1239.9 L251.0,1239.9 L254.0,1239.9 L257.0,1239.9 L260.0,1240.0 L263.0,1240.0 L266.0,1240.0 L269.0,1240.0 L272.0,1240.0 L275.0,1240.0 L278.0,1240.0 L281.0,1240.0 L284.0,1240.0 L287.0,1240.0 L290.0,1240.0 L293.0,1240.0 L296.0,1240.1 L299.0,1240.1 L302.0,1240.1 L305.0,1240.1 L308.0,1240.1 L311.0,1240.1 L314.0,1240.1 L317.0,1240.1 L320.0,1240.1 L323.0,1240.1 L326.0,1240.1 L329.0,1240.1 L332.0,1240.1 L335.0,1240.1 L338.0,1240.1 L341.0,1240.1 L344.0,1240.2 L347.0,1240.2 L350.0,1240.2 L353.0,1240.2 L356.0,1240.2 L359.0,1240.2 L362.0,1240.2 L365.0,1240.2 L368.0,1240.2 L371.0,1240.2 L374.0,1240.2 L377.0,1240.2 L380.0,1240.2 L383.0,1240.2 L386.0,1240.2 L389.0,1240.2 L392.0,1240.2 L395.0,1240.2 L398.0,1240.2 L401.0,1240.2 L404.0,1240.2 L407.0,1240.2 L410.0,1240.2 L413.0,1240.2 L416.0,1240.2 L419.0,1240.2 L422.0,1240.3 L425.0,1240.3 L428.0,1240.3 L431.0,1240.3 L434.0,1240.3 L437.0,1240.3 L440.0,1240.3 L443.0,1240.3 L446.0,1240.3 L449.0,1240.3 L452.0,1240.3 L455.0,1240.3 L458.0,1240.3 L461.0,1240.3 L464.0,1240.3 L467.0,1240.3 L470.0,1240.3 L473.0,1240.3 L476.0,1240.3 L479.0,1240.3 L482.0,1240.3 L485.0,1240.3 L488.0,1240.3 L491.0,1240.3 L494.0,1240.3 L497.0,1240.3 L500.0,1240.3 L503.0,1240.3 L506.0,1240.3 L509.0,1240.3 L512.0,1240.3 L515.0,1240.3 L518.0,1240.3 L521.0,1240.3 L524.0,1240.3 L527.0,1240.3 L530.0,1240.3 L533.0,1240.3 L536.0,1240.3 L539.0,1240.3 L542.0,1240.3 L545.0,1240.3 L548.0,1240.3 L551.0,1240.3 L554.0,1240.3 L557.0,1240.3 L560.0,1240.3 L563.0,1240.3 L566.0,1240.3 L569.0,1240.3 L572.0,1240.3 L575.0,1240.3 L578.0,1240.3 L581.0,1240.3 L584.0,1240.3 L587.0,1240.3 L590.0,1240.3 L593.0,1240.3 L596.0,1240.3 L599.0,1240.3 L602.0,1240.3 L605.0,1240.3 L608.0,1240.3 L611.0,1240.3 L614.0,1240.3 L617.0,1240.3 L620.0,1240.3 L623.0,1240.3 L626.0,1240.3 L629.0,1240.3 L632.0,1240.3 L635.0,1240.3 L638.0,1240.3 L641.0,1240.3 L644.0,1240.3 L647.0,1240.3 L650.0,1240.2 L653.0,1240.2 L656.0,1240.2 L659.0,1240.2 L662.0,1240.2 L665.0,1240.2 L668.0,1240.2 L671.0,1240.2 L674.0,1240.2 L677.0,1240.2 L680.0,1240.2 L683.0,1240.1 L686.0,1240.1 L689.0,1240.1 L692.0,1240.1 L695.0,1240.1 L698.0,1240.0 L701.0,1239.9 L704.0,1239.8 L707.0,1239.7 L710.0,1239.6 L713.0,1239.5 L716.0,1239.3 L719.0,1239.2 L722.0,1239.0 L725.0,1238.9 L728.0,1238.7 L731.0,1238.5 L734.0,1238.4 L737.0,1238.2 L740.0,1238.1 L742.9,1237.9 L745.9,1237.7 L748.9,1237.6 L751.9,1237.4 L754.9,1237.2 L757.9,1237.0 L760.9,1236.8 L763.9,1236.6 L766.9,1236.4 L769.9,1236.2 L772.9,1235.9 L775.9,1235.7 L778.9,1235.5 L781.9,1235.2 L784.8,1234.9 L787.8,1234.7 L790.8,1234.4 L793.8,1234.1 L796.8,1233.8 L799.8,1233.5 L802.8,1233.2 L805.7,1232.9 L808.7,1232.6 L811.7,1232.3 L814.7,1232.0 L817.7,1231.7 L820.7,1231.4 L823.6,1231.0 L826.6,1230.7 L829.6,1230.4 L832.6,1230.0 L835.6,1229.7 L838.5,1229.3 L841.5,1229.0 L844.5,1228.6 L847.5,1228.2 L850.5,1227.8 L853.4,1227.4 L856.4,1227.0 L859.4,1226.6 L862.3,1226.2 L865.3,1225.8 L868.3,1225.4 L871.2,1224.9 L874.2,1224.4 L877.2,1224.0 L880.1,1223.5 L883.1,1222.9 L886.0,1222.4 L889.0,1221.8 L891.9,1221.3 L894.9,1220.7 L897.8,1220.1 L900.7,1219.4 L903.7,1218.8 L906.6,1218.2 L909.5,1217.6 L912.5,1217.0 L915.4,1216.4 L918.4,1215.8 L921.3,1215.2 L924.3,1214.7 L927.2,1214.1 L930.2,1213.5 L933.1,1213.0 L936.0,1212.4 L939.0,1211.8 L941.9,1211.2 L944.9,1210.6 L947.8,1210.0 L950.7,1209.4 L953.7,1208.7 L956.6,1208.0 L959.5,1207.3 L962.4,1206.6 L965.3,1205.9 L968.2,1205.1 L971.1,1204.4 L974.0,1203.6 L976.9,1202.8 L979.8,1202.1 L982.7,1201.3 L985.6,1200.5 L988.5,1199.8 L991.4,1199.0 L994.3,1198.2 L997.2,1197.4 L1000.1,1196.6 L1003.0,1195.8 L1005.9,1195.1 L1008.8,1194.3 L1011.7,1193.5 L1014.6,1192.7 L1017.5,1191.9 L1020.4,1191.2 L1023.3,1190.4 L1026.2,1189.7 L1029.1,1188.9 L1032.0,1188.2 L1034.9,1187.5 L1037.8,1186.8 L1040.8,1186.0 L1043.7,1185.3 L1046.6,1184.6 L1049.5,1184.0 L1052.4,1183.3 L1055.3,1182.6 L1058.3,1181.9 L1061.2,1181.3 L1064.1,1180.6 L1067.1,1179.9 L1070.0,1179.3 L1072.9,1178.6 L1075.8,1178.0 L1078.8,1177.4 L1081.7,1176.8 L1084.6,1176.1 L1087.6,1175.5 L1090.5,1174.9 L1093.5,1174.3 L1096.4,1173.7 L1099.3,1173.2 L1102.3,1172.6 L1105.2,1172.0 L1108.2,1171.4 L1111.1,1170.8 L1114.1,1170.3 L1117.0,1169.7 L1120.0,1169.1 L1122.9,1168.5 L1125.8,1168.0 L1128.8,1167.4 L1131.7,1166.9 L1134.7,1166.3 L1137.6,1165.8 L1140.6,1165.2 L1143.5,1164.7 L1146.5,1164.1 L1149.4,1163.6 L1152.4,1163.0 L1155.3,1162.4 L1158.3,1161.9 L1161.2,1161.3 L1164.2,1160.7 L1167.1,1160.1 L1170.0,1159.5 L1173.0,1158.8 L1175.9,1158.2 L1178.8,1157.5 L1181.7,1156.8 L1184.7,1156.1 L1187.6,1155.4 L1190.5,1154.7 L1193.4,1154.0 L1196.3,1153.3 L1199.2,1152.6 L1202.2,1151.9 L1205.1,1151.3 L1208.0,1150.6 L1210.9,1149.9 L1213.8,1149.2 L1216.8,1148.5 L1219.7,1147.9 L1222.6,1147.2 L1225.5,1146.5 L1228.4,1145.7 L1231.3,1145.0 L1234.3,1144.3 L1237.2,1143.5 L1240.1,1142.7 L1242.9,1141.9 L1245.8,1141.1 L1248.7,1140.2 L1251.5,1139.2 L1254.3,1138.2 L1257.1,1137.1 L1259.9,1135.9 L1262.6,1134.6 L1265.3,1133.3 L1268.0,1132.1 L1270.7,1130.8 L1273.5,1129.6 L1276.2,1128.4 L1279.0,1127.1 L1281.7,1125.9 L1284.4,1124.7 L1287.2,1123.5 L1289.9,1122.3 L1292.7,1121.0 L1295.4,1119.8 L1298.1,1118.5 L1300.8,1117.1 L1303.4,1115.8 L1306.1,1114.3 L1308.7,1112.9 L1311.3,1111.5 L1314.0,1110.0 L1316.6,1108.7 L1319.3,1107.3 L1322.0,1105.9 L1324.7,1104.6 L1327.4,1103.3 L1330.1,1102.0 L1332.8,1100.8 L1335.5,1099.5 L1338.3,1098.3 L1341.0,1097.1 L1343.8,1095.9 L1346.5,1094.7 L1349.3,1093.6 L1352.1,1092.5 L1354.9,1091.4 L1357.7,1090.3 L1360.5,1089.2 L1363.3,1088.2 L1366.1,1087.1 L1368.9,1086.0 L1371.7,1084.9 L1374.5,1083.8 L1377.2,1082.6 L1380.0,1081.4 L1382.7,1080.1 L1385.4,1078.8 L1388.0,1077.4 L1390.7,1076.0 L1393.3,1074.5 L1395.9,1073.0 L1398.5,1071.6 L1401.1,1070.1 L1403.8,1068.7 L1406.4,1067.2 L1409.0,1065.8 L1411.7,1064.4 L1414.3,1063.0 L1416.9,1061.5 L1419.5,1060.0 L1422.1,1058.5 L1424.7,1056.9 L1427.2,1055.2 L1429.6,1053.5 L1432.0,1051.7 L1434.3,1049.8 L1436.6,1047.9 L1438.9,1046.0 L1441.2,1044.0 L1443.4,1041.9 L1445.6,1039.9 L1447.7,1037.8 L1449.9,1035.7 L1451.9,1033.6 L1454.0,1031.3 L1456.0,1029.1 L1457.9,1026.8 L1459.9,1024.6 L1461.8,1022.3 L1463.8,1020.0 L1465.7,1017.7 L1467.7,1015.5 L1469.7,1013.3 L1471.8,1011.1 L1474.0,1009.1 L1476.2,1007.1 L1478.6,1005.2 L1481.0,1003.5 L1483.5,1002.0 L1486.2,1000.7 L1489.0,999.6 L1491.8,998.7 L1494.7,997.9 L1497.6,997.2 L1500.6,996.7 L1503.5,996.1 L1506.5,995.7 L1509.5,995.2 L1512.4,994.8 L1515.4,994.3 L1518.4,993.8 L1521.3,993.3 L1524.3,992.9 L1527.2,992.4 L1530.2,991.9 L1533.2,991.4 L1536.1,990.9 L1539.1,990.4 L1542.0,989.9 L1545.0,989.4 L1547.9,988.9 L1550.9,988.4 L1553.9,987.9 L1556.8,987.4 L1559.8,986.9 L1562.8,986.5 L1565.7,986.1 L1568.7,985.7 L1571.7,985.3 L1574.6,984.9 L1577.6,984.6 L1580.6,984.4 L1583.6,984.2 L1586.6,984.0 L1589.6,983.9 L1592.6,983.8 L1595.6,983.7 L1598.6,983.6 L1601.6,983.6 L1604.6,983.5 L1607.6,983.4 L1610.6,983.4 L1613.6,983.4 L1616.6,983.3 L1619.6,983.3 L1622.6,983.2 L1625.6,983.2 L1628.6,983.2 L1631.6,983.1 L1634.6,983.1 L1637.6,983.1 L1640.6,983.0 L1643.6,983.0 L1646.6,983.0 L1649.6,983.0 L1652.6,982.9 L1655.6,982.9 L1658.6,982.9 L1661.6,982.9 L1664.6,982.8 L1667.6,982.8 L1670.6,982.8 L1673.6,982.8 L1676.6,982.8 L1679.6,982.8 L1682.6,982.7 L1685.6,982.7 L1688.6,982.7 L1691.6,982.7 L1694.6,982.7 L1697.6,982.7 L1700.6,982.7 L1703.6,982.7 L1706.6,982.7 L1709.6,982.8 L1712.6,982.8 L1715.6,982.9 L1718.6,983.0 L1721.6,983.1 L1724.6,983.2 L1727.6,983.3 L1730.6,983.5 L1733.6,983.6 L1736.6,983.8 L1739.6,984.0 L1742.6,984.1 L1745.6,984.3 L1748.5,984.5 L1751.5,984.7 L1754.5,984.9 L1757.5,985.1 L1760.5,985.3 L1763.5,985.5 L1766.5,985.6 L1769.5,985.8 L1772.5,986.0 L1775.5,986.2 L1778.5,986.4 L1781.5,986.6 L1784.5,986.8 L1787.5,987.1 L1790.5,987.3 L1793.4,987.5 L1796.4,987.7 L1799.4,987.9 L1802.4,988.2 L1805.4,988.4 L1808.4,988.6 L1811.4,988.9 L1814.4,989.1 L1817.4,989.5 L1820.3,989.8 L1823.3,990.3 L1826.2,990.9 L1829.1,991.6 L1832.0,992.3 L1834.9,993.2 L1837.8,994.1 L1840.6,995.2 L1843.3,996.3 L1846.0,997.7 L1848.5,999.3 L1850.9,1001.0 L1853.1,1003.0 L1855.2,1005.1 L1857.1,1007.4 L1858.9,1009.8 L1860.6,1012.2 L1862.1,1014.8 L1863.6,1017.4 L1864.9,1020.1 L1866.2,1022.8 L1867.3,1025.6 L1868.3,1028.4 L1869.2,1031.3 L1869.9,1034.2 L1870.5,1037.1 L1870.9,1040.1 L1871.4,1043.0 L1871.7,1046.0 L1872.1,1049.0 L1872.4,1052.0 L1872.8,1054.9 L1873.2,1057.9 L1873.6,1060.9 L1874.0,1063.9 L1874.4,1066.8 L1874.8,1069.8 L1875.2,1072.8 L1875.6,1075.8 L1876.0,1078.7 L1876.3,1081.7 L1876.7,1084.7 L1877.0,1087.7 L1877.3,1090.7 L1877.6,1093.6 L1877.9,1096.6 L1878.2,1099.6 L1878.4,1102.6 L1878.7,1105.6 L1879.0,1108.6 L1879.3,1111.6 L1879.6,1114.5 L1879.9,1117.5 L1880.3,1120.5 L1880.6,1123.5 L1880.9,1126.5 L1881.2,1129.5 L1881.5,1132.5 L1881.7,1135.4 L1882.0,1138.4 L1882.3,1141.4 L1882.5,1144.4 L1882.8,1147.4 L1883.2,1150.4 L1883.6,1153.3 L1884.0,1156.3 L1884.6,1159.2 L1885.2,1162.2 L1886.0,1165.1 L1886.8,1167.9 L1887.9,1170.7 L1889.1,1173.5 L1890.4,1176.1 L1892.0,1178.6 L1893.7,1181.1 L1895.6,1183.4 L1897.5,1185.7 L1899.6,1187.8 L1901.8,1189.9 L1904.0,1191.9 L1906.3,1193.8 L1908.8,1195.5 L1911.2,1197.2 L1913.8,1198.7 L1916.5,1200.1 L1919.1,1201.4 L1921.9,1202.6 L1924.7,1203.8 L1927.4,1204.9 L1930.3,1205.9 L1933.1,1206.9 L1935.9,1207.9 L1938.8,1208.9 L1941.6,1209.8 L1944.5,1210.8 L1947.3,1211.7 L1950.2,1212.6 L1953.1,1213.4 L1955.9,1214.2 L1958.8,1215.0 L1961.7,1215.8 L1964.6,1216.5 L1967.6,1217.2 L1970.5,1217.9 L1973.4,1218.5 L1976.3,1219.2 L1979.3,1219.8 L1982.2,1220.4 L1985.2,1220.9 L1988.1,1221.4 L1991.1,1221.9 L1994.1,1222.3 L1997.0,1222.7 L2000.0,1223.1 L2003.0,1223.4 L2006.0,1223.7 L2009.0,1224.0 L2011.9,1224.3 L2014.9,1224.6 L2017.9,1224.9 L2020.9,1225.1 L2023.9,1225.4 L2026.9,1225.6 L2029.9,1225.9 L2032.9,1226.1 L2035.9,1226.3 L2038.9,1226.6 L2041.8,1226.8 L2044.8,1227.0 L2047.8,1227.2 L2050.8,1227.5 L2053.8,1227.7 L2056.8,1227.9 L2059.8,1228.2 L2062.8,1228.4 L2065.8,1228.6 L2068.8,1228.9 L2071.8,1229.1 L2074.7,1229.3 L2077.7,1229.5 L2080.7,1229.7 L2083.7,1229.9 L2086.7,1230.1 L2089.7,1230.3 L2092.7,1230.4 L2095.7,1230.6 L2098.7,1230.7 L2101.7,1230.8 L2104.7,1230.9 L2107.7,1231.0 L2110.7,1231.1 L2113.7,1231.2 L2116.7,1231.3 L2119.7,1231.4 L2122.7,1231.5 L2125.7,1231.6 L2128.7,1231.7 L2131.7,1231.8 L2134.7,1231.9 L2137.7,1232.0 L2140.7,1232.1 L2143.7,1232.1 L2146.7,1232.2 L2149.7,1232.3 L2152.7,1232.4 L2155.7,1232.4 L2158.7,1232.5 L2161.7,1232.6 L2164.7,1232.6 L2167.7,1232.7 L2170.7,1232.8 L2173.7,1232.8 L2176.7,1232.9 L2179.7,1233.0 L2182.7,1233.0 L2185.7,1233.1 L2188.7,1233.2 L2191.7,1233.2 L2194.7,1233.3 L2197.7,1233.3 L2200.7,1233.4 L2203.7,1233.5 L2206.7,1233.5 L2209.7,1233.6 L2212.7,1233.7 L2215.7,1233.7 L2218.7,1233.8 L2221.7,1233.9 L2224.7,1233.9 L2227.7,1234.0 L2230.7,1234.1 L2233.7,1234.1 L2236.7,1234.2 L2239.7,1234.2 L2242.7,1234.3 L2245.7,1234.4 L2248.7,1234.4 L2251.7,1234.5 L2254.7,1234.5 L2257.7,1234.6 L2260.7,1234.7 L2263.7,1234.7 L2266.7,1234.8 L2269.7,1234.8 L2272.7,1234.9 L2275.7,1234.9 L2278.7,1235.0 L2281.6,1235.1 L2284.6,1235.1 L2287.6,1235.2 L2290.6,1235.2 L2293.6,1235.3 L2296.6,1235.3 L2299.6,1235.4 L2302.6,1235.4 L2305.6,1235.5 L2308.6,1235.5 L2311.6,1235.6 L2314.6,1235.6 L2317.6,1235.7 L2320.6,1235.7 L2323.6,1235.8 L2326.6,1235.8 L2329.6,1235.8 L2332.6,1235.9 L2335.6,1235.9 L2338.6,1236.0 L2341.6,1236.0 L2344.6,1236.1 L2347.5,1236.1 L2350.2,1236.1 L2352.8,1236.2 L2355.5,1236.2" fill="none" stroke="#ff0000" stroke-width="5.5" stroke-linejoin="round"/>
<path d="M216.0,1515.0 L218.5,1515.0 L221.4,1515.0 L224.1,1515.0 L227.0,1515.0 L230.0,1515.0 L233.0,1515.0 L236.0,1515.0 L239.0,1515.0 L242.0,1515.0 L245.0,1515.0 L248.0,1515.0 L251.0,1515.0 L254.0,1515.1 L257.0,1515.1 L260.0,1515.1 L263.0,1515.1 L266.0,1515.1 L269.0,1515.1 L272.0,1515.1 L275.0,1515.1 L278.0,1515.1 L281.0,1515.1 L284.0,1515.1 L287.0,1515.1 L290.0,1515.1 L293.0,1515.1 L296.0,1515.1 L299.0,1515.1 L302.0,1515.1 L305.0,1515.1 L308.0,1515.1 L311.0,1515.1 L314.0,1515.1 L317.0,1515.1 L320.0,1515.1 L323.0,1515.1 L326.0,1515.1 L329.0,1515.1 L332.0,1515.1 L335.0,1515.1 L338.0,1515.1 L341.0,1515.1 L344.0,1515.1 L347.0,1515.1 L350.0,1515.1 L353.0,1515.1 L356.0,1515.1 L359.0,1515.2 L362.0,1515.2 L365.0,1515.2 L368.0,1515.2 L371.0,1515.2 L374.0,1515.2 L377.0,1515.2 L380.0,1515.2 L383.0,1515.2 L386.0,1515.2 L389.0,1515.2 L392.0,1515.2 L395.0,1515.2 L398.0,1515.2 L401.0,1515.2 L404.0,1515.2 L407.0,1515.2 L410.0,1515.2 L413.0,1515.2 L416.0,1515.2 L419.0,1515.2 L422.0,1515.2 L425.0,1515.2 L428.0,1515.2 L431.0,1515.2 L434.0,1515.2 L437.0,1515.2 L440.0,1515.2 L443.0,1515.2 L446.0,1515.2 L449.0,1515.2 L452.0,1515.2 L455.0,1515.2 L458.0,1515.2 L461.0,1515.2 L464.0,1515.2 L467.0,1515.2 L470.0,1515.2 L473.0,1515.2 L476.0,1515.2 L479.0,1515.2 L482.0,1515.2 L485.0,1515.2 L488.0,1515.2 L491.0,1515.2 L494.0,1515.2 L497.0,1515.2 L500.0,1515.2 L503.0,1515.2 L506.0,1515.2 L509.0,1515.2 L512.0,1515.2 L515.0,1515.2 L518.0,1515.2 L521.0,1515.2 L524.0,1515.2 L527.0,1515.2 L530.0,1515.2 L533.0,1515.2 L536.0,1515.2 L539.0,1515.2 L542.0,1515.2 L545.0,1515.2 L548.0,1515.2 L551.0,1515.2 L554.0,1515.2 L557.0,1515.2 L560.0,1515.2 L563.0,1515.2 L566.0,1515.2 L569.0,1515.2 L572.0,1515.2 L575.0,1515.2 L578.0,1515.2 L581.0,1515.2 L584.0,1515.2 L587.0,1515.2 L590.0,1515.2 L593.0,1515.2 L596.0,1515.2 L599.0,1515.2 L602.0,1515.2 L605.0,1515.2 L608.0,1515.2 L611.0,1515.2 L614.0,1515.2 L617.0,1515.2 L620.0,1515.1 L623.0,1515.1 L626.0,1515.1 L629.0,1515.1 L632.0,1515.1 L635.0,1515.0 L638.0,1515.0 L641.0,1515.0 L644.0,1515.0 L647.0,1514.9 L650.0,1514.9 L653.0,1514.9 L656.0,1514.8 L659.0,1514.8 L662.0,1514.8 L665.0,1514.7 L668.0,1514.7 L671.0,1514.7 L674.0,1514.6 L677.0,1514.6 L680.0,1514.6 L683.0,1514.5 L686.0,1514.5 L689.0,1514.4 L692.0,1514.4 L695.0,1514.4 L698.0,1514.3 L701.0,1514.3 L704.0,1514.3 L707.0,1514.2 L710.0,1514.2 L713.0,1514.1 L716.0,1514.1 L719.0,1514.0 L722.0,1514.0 L725.0,1513.9 L728.0,1513.9 L731.0,1513.8 L734.0,1513.8 L737.0,1513.7 L740.0,1513.6 L743.0,1513.6 L746.0,1513.5 L749.0,1513.5 L752.0,1513.4 L755.0,1513.3 L758.0,1513.3 L761.0,1513.2 L764.0,1513.2 L767.0,1513.1 L770.0,1513.0 L773.0,1513.0 L776.0,1512.9 L779.0,1512.8 L782.0,1512.8 L785.0,1512.7 L788.0,1512.6 L791.0,1512.6 L794.0,1512.5 L797.0,1512.4 L800.0,1512.4 L803.0,1512.3 L806.0,1512.2 L809.0,1512.1 L812.0,1512.1 L815.0,1512.0 L818.0,1511.9 L821.0,1511.8 L824.0,1511.8 L827.0,1511.7 L830.0,1511.6 L833.0,1511.5 L836.0,1511.4 L839.0,1511.4 L842.0,1511.3 L845.0,1511.2 L848.0,1511.2 L851.0,1511.1 L854.0,1511.0 L857.0,1511.0 L860.0,1510.9 L863.0,1510.8 L866.0,1510.8 L869.0,1510.7 L872.0,1510.7 L875.0,1510.6 L878.0,1510.5 L881.0,1510.5 L884.0,1510.4 L887.0,1510.4 L890.0,1510.3 L893.0,1510.3 L896.0,1510.2 L899.0,1510.2 L902.0,1510.1 L905.0,1510.1 L907.9,1510.0 L910.9,1510.0 L913.9,1509.9 L916.9,1509.9 L919.9,1509.8 L922.9,1509.8 L925.9,1509.7 L928.9,1509.7 L931.9,1509.6 L934.9,1509.6 L937.9,1509.5 L940.9,1509.5 L943.9,1509.4 L946.9,1509.4 L949.9,1509.3 L952.9,1509.3 L955.9,1509.2 L958.9,1509.2 L961.9,1509.1 L964.9,1509.1 L967.9,1509.0 L970.9,1509.0 L973.9,1509.0 L976.9,1508.9 L979.9,1508.9 L982.9,1508.8 L985.9,1508.8 L988.9,1508.7 L991.9,1508.6 L994.9,1508.6 L997.9,1508.5 L1000.9,1508.4 L1003.9,1508.3 L1006.9,1508.2 L1009.9,1508.1 L1012.9,1508.0 L1015.9,1507.9 L1018.9,1507.7 L1021.9,1507.6 L1024.9,1507.4 L1027.9,1507.2 L1030.9,1507.1 L1033.9,1506.9 L1036.9,1506.7 L1039.9,1506.5 L1042.9,1506.3 L1045.9,1506.1 L1048.9,1505.9 L1051.9,1505.7 L1054.8,1505.4 L1057.8,1505.2 L1060.8,1504.9 L1063.8,1504.7 L1066.8,1504.4 L1069.8,1504.1 L1072.8,1503.8 L1075.8,1503.5 L1078.7,1503.2 L1081.7,1502.9 L1084.7,1502.5 L1087.7,1502.2 L1090.7,1501.8 L1093.6,1501.5 L1096.6,1501.1 L1099.6,1500.7 L1102.6,1500.3 L1105.5,1499.9 L1108.5,1499.4 L1111.5,1498.9 L1114.4,1498.4 L1117.4,1497.9 L1120.3,1497.4 L1123.3,1496.9 L1126.2,1496.4 L1129.2,1495.9 L1132.1,1495.3 L1135.1,1494.8 L1138.1,1494.3 L1141.0,1493.7 L1144.0,1493.2 L1146.9,1492.7 L1149.9,1492.1 L1152.8,1491.5 L1155.7,1491.0 L1158.7,1490.4 L1161.6,1489.9 L1164.6,1489.3 L1167.5,1488.7 L1170.5,1488.1 L1173.4,1487.5 L1176.4,1486.9 L1179.3,1486.3 L1182.2,1485.7 L1185.1,1485.0 L1188.1,1484.3 L1191.0,1483.6 L1193.9,1482.8 L1196.8,1482.1 L1199.7,1481.3 L1202.6,1480.5 L1205.5,1479.7 L1208.3,1478.8 L1211.2,1478.0 L1214.1,1477.2 L1217.0,1476.3 L1219.8,1475.4 L1222.7,1474.6 L1225.6,1473.7 L1228.4,1472.7 L1231.3,1471.8 L1234.1,1470.9 L1237.0,1469.9 L1239.8,1468.9 L1242.6,1467.9 L1245.5,1466.9 L1248.3,1465.9 L1251.1,1464.8 L1253.9,1463.7 L1256.7,1462.6 L1259.5,1461.5 L1262.2,1460.4 L1265.0,1459.3 L1267.8,1458.1 L1270.6,1457.0 L1273.3,1455.8 L1276.1,1454.6 L1278.8,1453.4 L1281.6,1452.2 L1284.3,1451.0 L1287.0,1449.8 L1289.8,1448.5 L1292.5,1447.3 L1295.3,1446.1 L1298.1,1445.0 L1300.8,1443.9 L1303.6,1442.8 L1306.5,1441.8 L1309.3,1440.8 L1312.1,1439.8 L1314.9,1438.7 L1317.7,1437.6 L1320.4,1436.4 L1323.2,1435.1 L1325.9,1433.8 L1328.6,1432.5 L1331.3,1431.2 L1334.0,1429.9 L1336.7,1428.7 L1339.4,1427.3 L1342.0,1426.0 L1344.7,1424.5 L1347.2,1423.0 L1349.8,1421.4 L1352.2,1419.6 L1354.6,1417.9 L1357.0,1416.1 L1359.4,1414.2 L1361.7,1412.3 L1364.0,1410.4 L1366.3,1408.4 L1368.5,1406.4 L1370.6,1404.3 L1372.7,1402.1 L1374.6,1399.9 L1376.4,1397.5 L1378.1,1395.0 L1379.7,1392.5 L1381.2,1389.9 L1382.7,1387.3 L1384.0,1384.6 L1385.3,1381.9 L1386.6,1379.2 L1387.9,1376.5 L1389.3,1373.9 L1390.8,1371.2 L1392.3,1368.7 L1393.8,1366.1 L1395.3,1363.5 L1396.7,1360.8 L1398.0,1358.1 L1399.2,1355.4 L1400.4,1352.6 L1401.4,1349.8 L1402.4,1347.0 L1403.4,1344.2 L1404.5,1341.4 L1405.7,1338.6 L1407.0,1335.9 L1408.2,1333.2 L1409.4,1330.5 L1410.6,1327.7 L1411.7,1324.9 L1412.8,1322.1 L1413.9,1319.4 L1415.2,1316.7 L1416.6,1314.0 L1418.0,1311.4 L1419.6,1308.8 L1421.2,1306.3 L1423.0,1303.9 L1424.8,1301.6 L1426.9,1299.4 L1429.0,1297.3 L1431.3,1295.3 L1433.6,1293.5 L1436.0,1291.7 L1438.5,1290.1 L1441.1,1288.5 L1443.6,1286.9 L1446.2,1285.5 L1448.9,1284.1 L1451.6,1282.8 L1454.3,1281.6 L1457.1,1280.5 L1459.9,1279.4 L1462.8,1278.5 L1465.6,1277.6 L1468.5,1276.8 L1471.4,1276.0 L1474.3,1275.3 L1477.3,1274.6 L1480.2,1273.9 L1483.1,1273.3 L1486.1,1272.7 L1489.0,1272.2 L1492.0,1271.6 L1494.9,1271.1 L1497.9,1270.5 L1500.8,1270.0 L1503.8,1269.5 L1506.7,1269.0 L1509.7,1268.6 L1512.7,1268.2 L1515.6,1267.9 L1518.6,1267.7 L1521.6,1267.6 L1524.6,1267.5 L1527.6,1267.5 L1530.6,1267.5 L1533.6,1267.4 L1536.6,1267.4 L1539.6,1267.4 L1542.6,1267.4 L1545.6,1267.4 L1548.6,1267.4 L1551.6,1267.4 L1554.6,1267.4 L1557.6,1267.4 L1560.6,1267.5 L1563.6,1267.5 L1566.6,1267.5 L1569.6,1267.6 L1572.6,1267.6 L1575.6,1267.7 L1578.6,1267.7 L1581.6,1267.8 L1584.6,1267.8 L1587.6,1267.9 L1590.6,1267.9 L1593.6,1268.0 L1596.6,1268.1 L1599.6,1268.2 L1602.6,1268.3 L1605.6,1268.4 L1608.6,1268.6 L1611.6,1268.7 L1614.6,1268.9 L1617.6,1269.0 L1620.6,1269.2 L1623.6,1269.3 L1626.6,1269.5 L1629.6,1269.7 L1632.6,1269.9 L1635.6,1270.0 L1638.6,1270.2 L1641.6,1270.4 L1644.6,1270.6 L1647.5,1270.8 L1650.5,1271.0 L1653.5,1271.2 L1656.5,1271.4 L1659.5,1271.6 L1662.5,1271.9 L1665.5,1272.1 L1668.5,1272.4 L1671.5,1272.7 L1674.4,1273.0 L1677.4,1273.3 L1680.4,1273.7 L1683.4,1274.1 L1686.3,1274.6 L1689.3,1275.1 L1692.2,1275.7 L1695.2,1276.3 L1698.1,1276.9 L1701.0,1277.6 L1704.0,1278.2 L1706.9,1278.9 L1709.8,1279.5 L1712.8,1280.1 L1715.7,1280.7 L1718.6,1281.3 L1721.6,1281.9 L1724.5,1282.5 L1727.5,1283.1 L1730.4,1283.7 L1733.3,1284.4 L1736.2,1285.1 L1739.1,1285.8 L1742.0,1286.6 L1744.9,1287.5 L1747.8,1288.4 L1750.6,1289.4 L1753.4,1290.5 L1756.1,1291.7 L1758.8,1293.0 L1761.5,1294.3 L1764.1,1295.8 L1766.7,1297.3 L1769.2,1298.9 L1771.6,1300.7 L1774.0,1302.5 L1776.2,1304.5 L1778.4,1306.6 L1780.4,1308.8 L1782.4,1311.0 L1784.2,1313.4 L1786.0,1315.8 L1787.7,1318.2 L1789.3,1320.8 L1790.8,1323.4 L1792.2,1326.0 L1793.5,1328.7 L1794.8,1331.4 L1796.0,1334.2 L1797.2,1336.9 L1798.3,1339.7 L1799.4,1342.5 L1800.4,1345.3 L1801.4,1348.2 L1802.3,1351.0 L1803.2,1353.9 L1804.1,1356.7 L1804.9,1359.6 L1805.7,1362.5 L1806.5,1365.4 L1807.2,1368.3 L1807.9,1371.2 L1808.6,1374.2 L1809.3,1377.1 L1809.9,1380.0 L1810.6,1382.9 L1811.2,1385.9 L1811.8,1388.8 L1812.5,1391.7 L1813.1,1394.7 L1813.7,1397.6 L1814.3,1400.6 L1814.9,1403.5 L1815.4,1406.5 L1815.9,1409.4 L1816.4,1412.4 L1816.9,1415.3 L1817.3,1418.3 L1817.8,1421.3 L1818.2,1424.2 L1818.5,1427.2 L1818.9,1430.2 L1819.3,1433.2 L1819.7,1436.1 L1820.1,1439.1 L1820.5,1442.1 L1820.9,1445.1 L1821.2,1448.0 L1821.6,1451.0 L1822.0,1454.0 L1822.4,1457.0 L1822.8,1459.9 L1823.2,1462.9 L1823.6,1465.9 L1824.0,1468.9 L1824.5,1471.8 L1824.9,1474.8 L1825.5,1477.7 L1826.2,1480.6 L1827.1,1483.5 L1828.2,1486.2 L1829.5,1488.8 L1831.2,1491.3 L1833.1,1493.4 L1835.3,1495.4 L1837.8,1497.0 L1840.4,1498.4 L1843.1,1499.5 L1845.9,1500.5 L1848.8,1501.4 L1851.7,1502.1 L1854.6,1502.8 L1857.6,1503.4 L1860.5,1503.9 L1863.5,1504.4 L1866.4,1504.8 L1869.4,1505.2 L1872.4,1505.6 L1875.4,1506.0 L1878.3,1506.4 L1881.3,1506.7 L1884.3,1507.1 L1887.3,1507.4 L1890.3,1507.7 L1893.3,1508.0 L1896.2,1508.3 L1899.2,1508.6 L1902.2,1508.8 L1905.2,1509.1 L1908.2,1509.3 L1911.2,1509.6 L1914.2,1509.8 L1917.2,1510.1 L1920.2,1510.3 L1923.1,1510.5 L1926.1,1510.7 L1929.1,1510.8 L1932.1,1511.0 L1935.1,1511.1 L1938.1,1511.3 L1941.1,1511.4 L1944.1,1511.5 L1947.1,1511.7 L1950.1,1511.8 L1953.1,1511.9 L1956.1,1512.0 L1959.1,1512.1 L1962.1,1512.2 L1965.1,1512.3 L1968.1,1512.3 L1971.1,1512.4 L1974.1,1512.4 L1977.1,1512.5 L1980.1,1512.6 L1983.1,1512.6 L1986.1,1512.7 L1989.1,1512.7 L1992.1,1512.8 L1995.1,1512.8 L1998.1,1512.8 L2001.1,1512.9 L2004.1,1512.9 L2007.1,1513.0 L2010.1,1513.0 L2013.1,1513.0 L2016.1,1513.1 L2019.1,1513.1 L2022.1,1513.2 L2025.1,1513.2 L2028.1,1513.2 L2031.1,1513.3 L2034.1,1513.3 L2037.1,1513.3 L2040.1,1513.3 L2043.1,1513.4 L2046.1,1513.4 L2049.1,1513.4 L2052.1,1513.5 L2055.1,1513.5 L2058.1,1513.5 L2061.1,1513.5 L2064.1,1513.6 L2067.1,1513.6 L2070.1,1513.6 L2073.1,1513.6 L2076.1,1513.6 L2079.1,1513.7 L2082.1,1513.7 L2085.1,1513.7 L2088.1,1513.7 L2091.1,1513.7 L2094.1,1513.8 L2097.1,1513.8 L2100.1,1513.8 L2103.1,1513.8 L2106.1,1513.8 L2109.1,1513.9 L2112.1,1513.9 L2115.1,1513.9 L2118.1,1513.9 L2121.1,1513.9 L2124.1,1513.9 L2127.1,1514.0 L2130.1,1514.0 L2133.1,1514.0 L2136.1,1514.0 L2139.1,1514.0 L2142.1,1514.1 L2145.1,1514.1 L2148.1,1514.1 L2151.1,1514.1 L2154.1,1514.1 L2157.1,1514.1 L2160.1,1514.2 L2163.1,1514.2 L2166.1,1514.2 L2169.1,1514.2 L2172.1,1514.2 L2175.1,1514.2 L2178.1,1514.3 L2181.1,1514.3 L2184.1,1514.3 L2187.1,1514.3 L2190.1,1514.3 L2193.1,1514.3 L2196.1,1514.3 L2199.1,1514.4 L2202.1,1514.4 L2205.1,1514.4 L2208.1,1514.4 L2211.1,1514.4 L2214.1,1514.4 L2217.1,1514.4 L2220.1,1514.5 L2223.1,1514.5 L2226.1,1514.5 L2229.1,1514.5 L2232.1,1514.5 L2235.1,1514.5 L2238.1,1514.5 L2241.1,1514.5 L2244.1,1514.6 L2247.1,1514.6 L2250.1,1514.6 L2253.1,1514.6 L2256.1,1514.6 L2259.1,1514.6 L2262.1,1514.6 L2265.1,1514.6 L2268.1,1514.6 L2271.1,1514.7 L2274.1,1514.7 L2277.1,1514.7 L2280.1,1514.7 L2283.1,1514.7 L2286.1,1514.7 L2289.1,1514.7 L2292.1,1514.7 L2295.1,1514.7 L2298.1,1514.7 L2301.1,1514.7 L2304.1,1514.7 L2307.1,1514.8 L2310.1,1514.8 L2313.1,1514.8 L2316.1,1514.8 L2319.1,1514.8 L2322.1,1514.8 L2325.1,1514.8 L2328.1,1514.8 L2331.1,1514.8 L2334.1,1514.8 L2337.1,1514.8 L2340.1,1514.8 L2343.1,1514.8 L2346.0,1514.8 L2348.9,1514.8 L2351.7,1514.8 L2355.5,1514.8" fill="none" stroke="#000" stroke-width="6.3" stroke-linejoin="round"/>
<line x1="1132.5" y1="321" x2="1132.5" y2="355.8" stroke="#008000" stroke-width="6"/>
<line x1="1119.5" y1="609.8" x2="1119.5" y2="644.6" stroke="#ff00ff" stroke-width="6"/>
<line x1="1206.7" y1="886.8" x2="1206.7" y2="920.2" stroke="#0000ff" stroke-width="6"/>
<line x1="1227.4" y1="1129.7" x2="1227.4" y2="1162.5" stroke="#ff0000" stroke-width="6"/>
<line x1="1290.5" y1="1436.2" x2="1290.5" y2="1461.5" stroke="#000" stroke-width="6"/>
<rect x="213" y="57" width="2145" height="1577.5" fill="none" stroke="#000" stroke-width="6.5"/>
<line x1="319.6" y1="1634" x2="319.6" y2="1665.5" stroke="#000" stroke-width="6.5"/>
<line x1="641.3" y1="1634" x2="641.3" y2="1665.5" stroke="#000" stroke-width="6.5"/>
<line x1="962.9" y1="1634" x2="962.9" y2="1665.5" stroke="#000" stroke-width="6.5"/>
<line x1="1284.6" y1="1634" x2="1284.6" y2="1665.5" stroke="#000" stroke-width="6.5"/>
<line x1="1606.3" y1="1634" x2="1606.3" y2="1665.5" stroke="#000" stroke-width="6.5"/>
<line x1="1928.0" y1="1634" x2="1928.0" y2="1665.5" stroke="#000" stroke-width="6.5"/>
<line x1="2249.7" y1="1634" x2="2249.7" y2="1665.5" stroke="#000" stroke-width="6.5"/>
<line x1="480.4" y1="1634" x2="480.4" y2="1650" stroke="#000" stroke-width="6.5"/>
<line x1="802.1" y1="1634" x2="802.1" y2="1650" stroke="#000" stroke-width="6.5"/>
<line x1="1123.8" y1="1634" x2="1123.8" y2="1650" stroke="#000" stroke-width="6.5"/>
<line x1="1445.5" y1="1634" x2="1445.5" y2="1650" stroke="#000" stroke-width="6.5"/>
<line x1="1767.1" y1="1634" x2="1767.1" y2="1650" stroke="#000" stroke-width="6.5"/>
<line x1="2088.8" y1="1634" x2="2088.8" y2="1650" stroke="#000" stroke-width="6.5"/>
<text transform="translate(283.74,1738.71) scale(1.1741,1.1525)" font-size="60"><tspan font-weight="bold">75</tspan></text>
<text transform="translate(590.59,1738.71) scale(1.1253,1.1525)" font-size="60"><tspan font-weight="bold">150</tspan></text>
<text transform="translate(912.46,1738.71) scale(1.1306,1.1525)" font-size="60"><tspan font-weight="bold">225</tspan></text>
<text transform="translate(1232.43,1738.71) scale(1.1435,1.1525)" font-size="60"><tspan font-weight="bold">300</tspan></text>
<text transform="translate(1554.94,1738.71) scale(1.1360,1.1525)" font-size="60"><tspan font-weight="bold">375</tspan></text>
<text transform="translate(1877.68,1738.71) scale(1.1057,1.1525)" font-size="60"><tspan font-weight="bold">450</tspan></text>
<text transform="translate(2199.76,1738.71) scale(1.1198,1.1525)" font-size="60"><tspan font-weight="bold">525</tspan></text>
<text transform="translate(1086.63,307.39) scale(0.9906,1.0100)" font-size="60"><tspan font-weight="bold">268</tspan></text>
<text transform="translate(1075.07,593.37) scale(0.9640,1.0250)" font-size="60"><tspan font-weight="bold">263</tspan></text>
<text transform="translate(1163.05,871.99) scale(0.9814,1.0075)" font-size="60"><tspan font-weight="bold">278</tspan></text>
<text transform="translate(1185.00,1117.58) scale(0.9988,1.0350)" font-size="60"><tspan font-weight="bold">285</tspan></text>
<text transform="translate(1497.42,1246.79) scale(0.9907,1.0200)" font-size="60"><tspan font-weight="bold">355</tspan></text>
<text transform="translate(1684.41,1249.98) scale(0.9682,1.0125)" font-size="60"><tspan font-weight="bold">400</tspan></text>
<text transform="translate(1243.98,1421.58) scale(1.0081,1.0275)" font-size="60"><tspan font-weight="bold">300</tspan></text>
<text transform="translate(1274.24,1496.86) scale(0.9606,1.0966)" font-size="60"><tspan font-weight="bold" font-style="italic">α</tspan></text>
<text transform="translate(1515.30,1348.34) scale(1.1385,1.0800)" font-size="60"><tspan font-weight="bold">β</tspan></text>
<text transform="translate(1700.38,1375.57) scale(1.3125,1.1375)" font-size="60"><tspan font-weight="bold" font-style="italic">γ</tspan></text>
<text transform="translate(469.45,360.63) scale(0.9131,0.9037)" font-size="60"><tspan font-weight="normal">(</tspan><tspan font-weight="bold">e</tspan><tspan font-weight="normal">)</tspan></text>
<text transform="translate(469.54,646.99) scale(0.8838,0.9056)" font-size="60"><tspan font-weight="normal">(</tspan><tspan font-weight="bold">d</tspan><tspan font-weight="normal">)</tspan></text>
<text transform="translate(469.62,933.20) scale(0.9048,0.9111)" font-size="60"><tspan font-weight="normal">(</tspan><tspan font-weight="bold">c</tspan><tspan font-weight="normal">)</tspan></text>
<text transform="translate(465.98,1210.42) scale(0.9324,0.9302)" font-size="60"><tspan font-weight="normal">(</tspan><tspan font-weight="bold">b</tspan><tspan font-weight="normal">)</tspan></text>
<text transform="translate(467.20,1488.15) scale(0.9328,0.9148)" font-size="60"><tspan font-weight="normal">(</tspan><tspan font-weight="bold">a</tspan><tspan font-weight="normal">)</tspan></text>
<text transform="translate(972.44,1869.28) scale(0.9714,0.9519)" font-size="85"><tspan font-weight="bold">Temperature </tspan><tspan font-weight="normal">(°</tspan><tspan font-weight="bold">C</tspan><tspan font-weight="normal">)</tspan></text>
<text transform="translate(111.68,1099.70) rotate(-90) scale(0.9604,0.9390)" font-size="85"><tspan font-weight="bold">Intensity </tspan><tspan font-weight="normal">(</tspan><tspan font-weight="bold">a.u.</tspan><tspan font-weight="normal">)</tspan></text>
</svg>
</body></html>
